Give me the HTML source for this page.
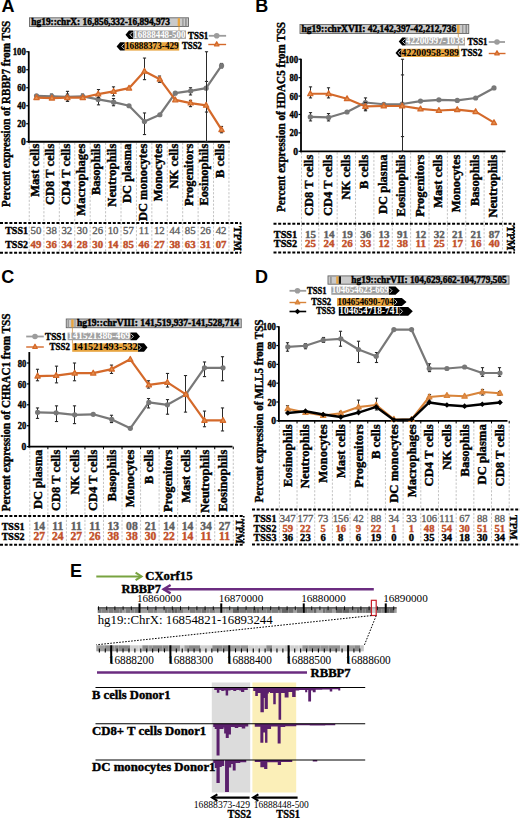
<!DOCTYPE html>
<html><head><meta charset="utf-8"><style>
html,body{margin:0;padding:0;background:#fff;width:520px;height:818px;overflow:hidden;font-family:"Liberation Serif",serif;}
svg{display:block;}
</style></head><body>
<svg width="520" height="818" viewBox="0 0 520 818">
<rect width="520" height="818" fill="#fff"/>
<text x="1.60" y="12.30" font-family="Liberation Sans" font-size="18" fill="#000" font-weight="bold" >A</text>
<text x="255.30" y="12.40" font-family="Liberation Sans" font-size="18" fill="#000" font-weight="bold" >B</text>
<text x="1.20" y="282.60" font-family="Liberation Sans" font-size="18" fill="#000" font-weight="bold" >C</text>
<text x="255.00" y="282.80" font-family="Liberation Sans" font-size="18" fill="#000" font-weight="bold" >D</text>
<text x="70.00" y="577.00" font-family="Liberation Sans" font-size="18" fill="#000" font-weight="bold" >E</text>
<line x1="29.25" y1="142.75" x2="29.25" y2="252.80" stroke="#bdbdbd" stroke-width="0.9" stroke-dasharray="2.2,1.6" />
<line x1="43.91" y1="142.75" x2="43.91" y2="252.80" stroke="#bdbdbd" stroke-width="0.9" stroke-dasharray="2.2,1.6" />
<line x1="59.33" y1="142.75" x2="59.33" y2="252.80" stroke="#bdbdbd" stroke-width="0.9" stroke-dasharray="2.2,1.6" />
<line x1="74.75" y1="142.75" x2="74.75" y2="252.80" stroke="#bdbdbd" stroke-width="0.9" stroke-dasharray="2.2,1.6" />
<line x1="90.17" y1="142.75" x2="90.17" y2="252.80" stroke="#bdbdbd" stroke-width="0.9" stroke-dasharray="2.2,1.6" />
<line x1="105.59" y1="142.75" x2="105.59" y2="252.80" stroke="#bdbdbd" stroke-width="0.9" stroke-dasharray="2.2,1.6" />
<line x1="121.01" y1="142.75" x2="121.01" y2="252.80" stroke="#bdbdbd" stroke-width="0.9" stroke-dasharray="2.2,1.6" />
<line x1="136.43" y1="142.75" x2="136.43" y2="252.80" stroke="#bdbdbd" stroke-width="0.9" stroke-dasharray="2.2,1.6" />
<line x1="151.85" y1="142.75" x2="151.85" y2="252.80" stroke="#bdbdbd" stroke-width="0.9" stroke-dasharray="2.2,1.6" />
<line x1="167.27" y1="142.75" x2="167.27" y2="252.80" stroke="#bdbdbd" stroke-width="0.9" stroke-dasharray="2.2,1.6" />
<line x1="182.69" y1="142.75" x2="182.69" y2="252.80" stroke="#bdbdbd" stroke-width="0.9" stroke-dasharray="2.2,1.6" />
<line x1="198.11" y1="142.75" x2="198.11" y2="252.80" stroke="#bdbdbd" stroke-width="0.9" stroke-dasharray="2.2,1.6" />
<line x1="213.53" y1="142.75" x2="213.53" y2="252.80" stroke="#bdbdbd" stroke-width="0.9" stroke-dasharray="2.2,1.6" />
<line x1="228.95" y1="142.75" x2="228.95" y2="252.80" stroke="#bdbdbd" stroke-width="0.9" stroke-dasharray="2.2,1.6" />
<line x1="28.75" y1="51.25" x2="28.75" y2="142.75" stroke="#000" stroke-width="1.8" />
<line x1="27.85" y1="141.75" x2="230.00" y2="141.75" stroke="#000" stroke-width="1.8" />
<line x1="26.25" y1="141.75" x2="28.75" y2="141.75" stroke="#000" stroke-width="1.2" />
<text x="25.85" y="145.35" font-family="Liberation Serif" font-size="10.5" fill="#000" font-weight="bold" text-anchor="end" textLength="4.80" lengthAdjust="spacingAndGlyphs" stroke="#000" stroke-width="0.4" >0</text>
<line x1="26.25" y1="123.75" x2="28.75" y2="123.75" stroke="#000" stroke-width="1.2" />
<text x="25.85" y="127.35" font-family="Liberation Serif" font-size="10.5" fill="#000" font-weight="bold" text-anchor="end" textLength="8.60" lengthAdjust="spacingAndGlyphs" stroke="#000" stroke-width="0.4" >20</text>
<line x1="26.25" y1="105.75" x2="28.75" y2="105.75" stroke="#000" stroke-width="1.2" />
<text x="25.85" y="109.35" font-family="Liberation Serif" font-size="10.5" fill="#000" font-weight="bold" text-anchor="end" textLength="8.60" lengthAdjust="spacingAndGlyphs" stroke="#000" stroke-width="0.4" >40</text>
<line x1="26.25" y1="87.75" x2="28.75" y2="87.75" stroke="#000" stroke-width="1.2" />
<text x="25.85" y="91.35" font-family="Liberation Serif" font-size="10.5" fill="#000" font-weight="bold" text-anchor="end" textLength="8.60" lengthAdjust="spacingAndGlyphs" stroke="#000" stroke-width="0.4" >60</text>
<line x1="26.25" y1="69.75" x2="28.75" y2="69.75" stroke="#000" stroke-width="1.2" />
<text x="25.85" y="73.35" font-family="Liberation Serif" font-size="10.5" fill="#000" font-weight="bold" text-anchor="end" textLength="8.60" lengthAdjust="spacingAndGlyphs" stroke="#000" stroke-width="0.4" >80</text>
<line x1="26.25" y1="51.75" x2="28.75" y2="51.75" stroke="#000" stroke-width="1.2" />
<text x="25.85" y="55.35" font-family="Liberation Serif" font-size="10.5" fill="#000" font-weight="bold" text-anchor="end" textLength="13.20" lengthAdjust="spacingAndGlyphs" stroke="#000" stroke-width="0.4" >100</text>
<text x="9.80" y="113.90" font-family="Liberation Serif" font-size="12" fill="#000" font-weight="bold" text-anchor="middle" textLength="186.30" lengthAdjust="spacingAndGlyphs" transform="rotate(-90 9.80 113.90)" stroke="#000" stroke-width="0.4" >Percent expression of RBBP7 from TSS</text>
<text x="38.80" y="143.65" font-family="Liberation Serif" font-size="12.5" fill="#000" font-weight="bold" text-anchor="end" transform="rotate(-90 38.80 143.65)" stroke="#000" stroke-width="0.4" >Mast cells</text>
<text x="54.22" y="143.65" font-family="Liberation Serif" font-size="12.5" fill="#000" font-weight="bold" text-anchor="end" transform="rotate(-90 54.22 143.65)" stroke="#000" stroke-width="0.4" >CD8 T cells</text>
<text x="69.64" y="143.65" font-family="Liberation Serif" font-size="12.5" fill="#000" font-weight="bold" text-anchor="end" transform="rotate(-90 69.64 143.65)" stroke="#000" stroke-width="0.4" >CD4 T cells</text>
<text x="85.06" y="143.65" font-family="Liberation Serif" font-size="12.5" fill="#000" font-weight="bold" text-anchor="end" transform="rotate(-90 85.06 143.65)" stroke="#000" stroke-width="0.4" >Macrophages</text>
<text x="100.48" y="143.65" font-family="Liberation Serif" font-size="12.5" fill="#000" font-weight="bold" text-anchor="end" transform="rotate(-90 100.48 143.65)" stroke="#000" stroke-width="0.4" >Basophils</text>
<text x="115.90" y="143.65" font-family="Liberation Serif" font-size="12.5" fill="#000" font-weight="bold" text-anchor="end" transform="rotate(-90 115.90 143.65)" stroke="#000" stroke-width="0.4" >Neutrophils</text>
<text x="131.32" y="143.65" font-family="Liberation Serif" font-size="12.5" fill="#000" font-weight="bold" text-anchor="end" transform="rotate(-90 131.32 143.65)" stroke="#000" stroke-width="0.4" >DC plasma</text>
<text x="146.74" y="143.65" font-family="Liberation Serif" font-size="12.5" fill="#000" font-weight="bold" text-anchor="end" transform="rotate(-90 146.74 143.65)" stroke="#000" stroke-width="0.4" >DC monocytes</text>
<text x="162.16" y="143.65" font-family="Liberation Serif" font-size="12.5" fill="#000" font-weight="bold" text-anchor="end" transform="rotate(-90 162.16 143.65)" stroke="#000" stroke-width="0.4" >Monocytes</text>
<text x="177.58" y="143.65" font-family="Liberation Serif" font-size="12.5" fill="#000" font-weight="bold" text-anchor="end" transform="rotate(-90 177.58 143.65)" stroke="#000" stroke-width="0.4" >NK cells</text>
<text x="193.00" y="143.65" font-family="Liberation Serif" font-size="12.5" fill="#000" font-weight="bold" text-anchor="end" transform="rotate(-90 193.00 143.65)" stroke="#000" stroke-width="0.4" >Progenitors</text>
<text x="208.42" y="143.65" font-family="Liberation Serif" font-size="12.5" fill="#000" font-weight="bold" text-anchor="end" transform="rotate(-90 208.42 143.65)" stroke="#000" stroke-width="0.4" >Eosinophils</text>
<text x="223.84" y="143.65" font-family="Liberation Serif" font-size="12.5" fill="#000" font-weight="bold" text-anchor="end" transform="rotate(-90 223.84 143.65)" stroke="#000" stroke-width="0.4" >B cells</text>
<line x1="51.50" y1="94.05" x2="51.50" y2="99.45" stroke="#2a2a2a" stroke-width="1" />
<line x1="49.90" y1="94.05" x2="53.10" y2="94.05" stroke="#2a2a2a" stroke-width="1.1" />
<line x1="49.90" y1="99.45" x2="53.10" y2="99.45" stroke="#2a2a2a" stroke-width="1.1" />
<line x1="67.50" y1="91.35" x2="67.50" y2="101.25" stroke="#2a2a2a" stroke-width="1" />
<line x1="65.90" y1="91.35" x2="69.10" y2="91.35" stroke="#2a2a2a" stroke-width="1.1" />
<line x1="65.90" y1="101.25" x2="69.10" y2="101.25" stroke="#2a2a2a" stroke-width="1.1" />
<line x1="82.50" y1="94.05" x2="82.50" y2="98.55" stroke="#2a2a2a" stroke-width="1" />
<line x1="80.90" y1="94.05" x2="84.10" y2="94.05" stroke="#2a2a2a" stroke-width="1.1" />
<line x1="80.90" y1="98.55" x2="84.10" y2="98.55" stroke="#2a2a2a" stroke-width="1.1" />
<line x1="98.50" y1="95.85" x2="98.50" y2="104.85" stroke="#2a2a2a" stroke-width="1" />
<line x1="96.90" y1="95.85" x2="100.10" y2="95.85" stroke="#2a2a2a" stroke-width="1.1" />
<line x1="96.90" y1="104.85" x2="100.10" y2="104.85" stroke="#2a2a2a" stroke-width="1.1" />
<line x1="113.50" y1="98.55" x2="113.50" y2="105.75" stroke="#2a2a2a" stroke-width="1" />
<line x1="111.90" y1="98.55" x2="115.10" y2="98.55" stroke="#2a2a2a" stroke-width="1.1" />
<line x1="111.90" y1="105.75" x2="115.10" y2="105.75" stroke="#2a2a2a" stroke-width="1.1" />
<line x1="144.50" y1="112.95" x2="144.50" y2="134.55" stroke="#2a2a2a" stroke-width="1" />
<line x1="142.90" y1="112.95" x2="146.10" y2="112.95" stroke="#2a2a2a" stroke-width="1.1" />
<line x1="142.90" y1="134.55" x2="146.10" y2="134.55" stroke="#2a2a2a" stroke-width="1.1" />
<line x1="190.50" y1="87.75" x2="190.50" y2="94.95" stroke="#2a2a2a" stroke-width="1" />
<line x1="188.90" y1="87.75" x2="192.10" y2="87.75" stroke="#2a2a2a" stroke-width="1.1" />
<line x1="188.90" y1="94.95" x2="192.10" y2="94.95" stroke="#2a2a2a" stroke-width="1.1" />
<line x1="206.50" y1="51.75" x2="206.50" y2="112.05" stroke="#2a2a2a" stroke-width="1" />
<line x1="204.90" y1="51.75" x2="208.10" y2="51.75" stroke="#2a2a2a" stroke-width="1.1" />
<line x1="204.90" y1="112.05" x2="208.10" y2="112.05" stroke="#2a2a2a" stroke-width="1.1" />
<line x1="221.50" y1="63.45" x2="221.50" y2="67.95" stroke="#2a2a2a" stroke-width="1" />
<line x1="219.90" y1="63.45" x2="223.10" y2="63.45" stroke="#2a2a2a" stroke-width="1.1" />
<line x1="219.90" y1="67.95" x2="223.10" y2="67.95" stroke="#2a2a2a" stroke-width="1.1" />
<path d="M36.50 95.85 L51.92 96.30 L67.34 96.75 L82.76 96.30 L98.18 99.45 L113.60 102.15 L129.02 105.75 L144.44 121.50 L159.86 114.75 L175.28 93.15 L190.70 90.90 L206.12 88.20 L221.54 65.70" fill="none" stroke="#787878" stroke-width="2.2" stroke-linejoin="round"/>
<circle cx="36.50" cy="95.85" r="2.6" fill="#787878"/>
<circle cx="51.92" cy="96.30" r="2.6" fill="#787878"/>
<circle cx="67.34" cy="96.75" r="2.6" fill="#787878"/>
<circle cx="82.76" cy="96.30" r="2.6" fill="#787878"/>
<circle cx="98.18" cy="99.45" r="2.6" fill="#787878"/>
<circle cx="113.60" cy="102.15" r="2.6" fill="#787878"/>
<circle cx="129.02" cy="105.75" r="2.6" fill="#787878"/>
<circle cx="144.44" cy="121.50" r="2.6" fill="#787878"/>
<circle cx="159.86" cy="114.75" r="2.6" fill="#787878"/>
<circle cx="175.28" cy="93.15" r="2.6" fill="#787878"/>
<circle cx="190.70" cy="90.90" r="2.6" fill="#787878"/>
<circle cx="206.12" cy="88.20" r="2.6" fill="#787878"/>
<circle cx="221.54" cy="65.70" r="2.6" fill="#787878"/>
<line x1="67.50" y1="94.05" x2="67.50" y2="101.25" stroke="#2a2a2a" stroke-width="1" />
<line x1="65.90" y1="94.05" x2="69.10" y2="94.05" stroke="#2a2a2a" stroke-width="1.1" />
<line x1="65.90" y1="101.25" x2="69.10" y2="101.25" stroke="#2a2a2a" stroke-width="1.1" />
<line x1="98.50" y1="89.55" x2="98.50" y2="97.65" stroke="#2a2a2a" stroke-width="1" />
<line x1="96.90" y1="89.55" x2="100.10" y2="89.55" stroke="#2a2a2a" stroke-width="1.1" />
<line x1="96.90" y1="97.65" x2="100.10" y2="97.65" stroke="#2a2a2a" stroke-width="1.1" />
<line x1="113.50" y1="86.85" x2="113.50" y2="95.85" stroke="#2a2a2a" stroke-width="1" />
<line x1="111.90" y1="86.85" x2="115.10" y2="86.85" stroke="#2a2a2a" stroke-width="1.1" />
<line x1="111.90" y1="95.85" x2="115.10" y2="95.85" stroke="#2a2a2a" stroke-width="1.1" />
<line x1="144.50" y1="58.05" x2="144.50" y2="79.65" stroke="#2a2a2a" stroke-width="1" />
<line x1="142.90" y1="58.05" x2="146.10" y2="58.05" stroke="#2a2a2a" stroke-width="1.1" />
<line x1="142.90" y1="79.65" x2="146.10" y2="79.65" stroke="#2a2a2a" stroke-width="1.1" />
<line x1="159.50" y1="76.05" x2="159.50" y2="82.35" stroke="#2a2a2a" stroke-width="1" />
<line x1="157.90" y1="76.05" x2="161.10" y2="76.05" stroke="#2a2a2a" stroke-width="1.1" />
<line x1="157.90" y1="82.35" x2="161.10" y2="82.35" stroke="#2a2a2a" stroke-width="1.1" />
<line x1="190.50" y1="100.35" x2="190.50" y2="106.65" stroke="#2a2a2a" stroke-width="1" />
<line x1="188.90" y1="100.35" x2="192.10" y2="100.35" stroke="#2a2a2a" stroke-width="1.1" />
<line x1="188.90" y1="106.65" x2="192.10" y2="106.65" stroke="#2a2a2a" stroke-width="1.1" />
<line x1="206.50" y1="81.45" x2="206.50" y2="141.75" stroke="#2a2a2a" stroke-width="1" />
<line x1="204.90" y1="81.45" x2="208.10" y2="81.45" stroke="#2a2a2a" stroke-width="1.1" />
<line x1="204.90" y1="141.75" x2="208.10" y2="141.75" stroke="#2a2a2a" stroke-width="1.1" />
<line x1="221.50" y1="126.45" x2="221.50" y2="132.75" stroke="#2a2a2a" stroke-width="1" />
<line x1="219.90" y1="126.45" x2="223.10" y2="126.45" stroke="#2a2a2a" stroke-width="1.1" />
<line x1="219.90" y1="132.75" x2="223.10" y2="132.75" stroke="#2a2a2a" stroke-width="1.1" />
<path d="M36.50 97.65 L51.92 98.10 L67.34 97.65 L82.76 97.65 L98.18 94.05 L113.60 91.35 L129.02 88.20 L144.44 71.28 L159.86 79.20 L175.28 99.90 L190.70 103.05 L206.12 105.30 L221.54 129.60" fill="none" stroke="#d4692a" stroke-width="2.2" stroke-linejoin="round"/>
<path d="M36.50 94.77 L39.13 99.57 L33.87 99.57Z" fill="#e58f4c" stroke="#d4692a" stroke-width="1.3" stroke-linejoin="round"/>
<path d="M51.92 95.22 L54.55 100.02 L49.29 100.02Z" fill="#e58f4c" stroke="#d4692a" stroke-width="1.3" stroke-linejoin="round"/>
<path d="M67.34 94.77 L69.97 99.57 L64.71 99.57Z" fill="#e58f4c" stroke="#d4692a" stroke-width="1.3" stroke-linejoin="round"/>
<path d="M82.76 94.77 L85.39 99.57 L80.13 99.57Z" fill="#e58f4c" stroke="#d4692a" stroke-width="1.3" stroke-linejoin="round"/>
<path d="M98.18 91.17 L100.81 95.97 L95.55 95.97Z" fill="#e58f4c" stroke="#d4692a" stroke-width="1.3" stroke-linejoin="round"/>
<path d="M113.60 88.47 L116.23 93.27 L110.97 93.27Z" fill="#e58f4c" stroke="#d4692a" stroke-width="1.3" stroke-linejoin="round"/>
<path d="M129.02 85.32 L131.65 90.12 L126.39 90.12Z" fill="#e58f4c" stroke="#d4692a" stroke-width="1.3" stroke-linejoin="round"/>
<path d="M144.44 68.40 L147.07 73.20 L141.81 73.20Z" fill="#e58f4c" stroke="#d4692a" stroke-width="1.3" stroke-linejoin="round"/>
<path d="M159.86 76.32 L162.49 81.12 L157.23 81.12Z" fill="#e58f4c" stroke="#d4692a" stroke-width="1.3" stroke-linejoin="round"/>
<path d="M175.28 97.02 L177.91 101.82 L172.65 101.82Z" fill="#e58f4c" stroke="#d4692a" stroke-width="1.3" stroke-linejoin="round"/>
<path d="M190.70 100.17 L193.33 104.97 L188.07 104.97Z" fill="#e58f4c" stroke="#d4692a" stroke-width="1.3" stroke-linejoin="round"/>
<path d="M206.12 102.42 L208.75 107.22 L203.49 107.22Z" fill="#e58f4c" stroke="#d4692a" stroke-width="1.3" stroke-linejoin="round"/>
<path d="M221.54 126.72 L224.17 131.52 L218.91 131.52Z" fill="#e58f4c" stroke="#d4692a" stroke-width="1.3" stroke-linejoin="round"/>
<line x1="0.00" y1="222.90" x2="241.20" y2="222.90" stroke="#000" stroke-width="2" stroke-dasharray="3,1.7" />
<line x1="0.00" y1="252.80" x2="241.20" y2="252.80" stroke="#000" stroke-width="2" stroke-dasharray="3,1.7" />
<line x1="240.60" y1="222.90" x2="240.60" y2="252.80" stroke="#000" stroke-width="1.6" stroke-dasharray="1.6,1.6" />
<text x="5.20" y="233.60" font-family="Liberation Serif" font-size="10" fill="#000" font-weight="bold" stroke="#000" stroke-width="0.4" >TSS1</text>
<text x="36.00" y="233.60" font-family="Liberation Serif" font-size="10.8" fill="#5f5f5f" text-anchor="middle" stroke="#5f5f5f" stroke-width="0.35">50</text>
<text x="51.42" y="233.60" font-family="Liberation Serif" font-size="10.8" fill="#5f5f5f" text-anchor="middle" stroke="#5f5f5f" stroke-width="0.35">38</text>
<text x="66.84" y="233.60" font-family="Liberation Serif" font-size="10.8" fill="#5f5f5f" text-anchor="middle" stroke="#5f5f5f" stroke-width="0.35">32</text>
<text x="82.26" y="233.60" font-family="Liberation Serif" font-size="10.8" fill="#5f5f5f" text-anchor="middle" stroke="#5f5f5f" stroke-width="0.35">30</text>
<text x="97.68" y="233.60" font-family="Liberation Serif" font-size="10.8" fill="#5f5f5f" text-anchor="middle" stroke="#5f5f5f" stroke-width="0.35">26</text>
<text x="113.10" y="233.60" font-family="Liberation Serif" font-size="10.8" fill="#5f5f5f" text-anchor="middle" stroke="#5f5f5f" stroke-width="0.35">10</text>
<text x="128.52" y="233.60" font-family="Liberation Serif" font-size="10.8" fill="#5f5f5f" text-anchor="middle" stroke="#5f5f5f" stroke-width="0.35">57</text>
<text x="143.94" y="233.60" font-family="Liberation Serif" font-size="10.8" fill="#5f5f5f" text-anchor="middle" stroke="#5f5f5f" stroke-width="0.35">11</text>
<text x="159.36" y="233.60" font-family="Liberation Serif" font-size="10.8" fill="#5f5f5f" text-anchor="middle" stroke="#5f5f5f" stroke-width="0.35">12</text>
<text x="174.78" y="233.60" font-family="Liberation Serif" font-size="10.8" fill="#5f5f5f" text-anchor="middle" stroke="#5f5f5f" stroke-width="0.35">44</text>
<text x="190.20" y="233.60" font-family="Liberation Serif" font-size="10.8" fill="#5f5f5f" text-anchor="middle" stroke="#5f5f5f" stroke-width="0.35">85</text>
<text x="205.62" y="233.60" font-family="Liberation Serif" font-size="10.8" fill="#5f5f5f" text-anchor="middle" stroke="#5f5f5f" stroke-width="0.35">26</text>
<text x="221.04" y="233.60" font-family="Liberation Serif" font-size="10.8" fill="#5f5f5f" text-anchor="middle" stroke="#5f5f5f" stroke-width="0.35">42</text>
<text x="5.20" y="248.20" font-family="Liberation Serif" font-size="10" fill="#000" font-weight="bold" stroke="#000" stroke-width="0.4" >TSS2</text>
<text x="36.00" y="248.20" font-family="Liberation Serif" font-size="10.8" fill="#c2502a" font-weight="bold" text-anchor="middle" stroke="#c2502a" stroke-width="0.4" >49</text>
<text x="51.42" y="248.20" font-family="Liberation Serif" font-size="10.8" fill="#c2502a" font-weight="bold" text-anchor="middle" stroke="#c2502a" stroke-width="0.4" >36</text>
<text x="66.84" y="248.20" font-family="Liberation Serif" font-size="10.8" fill="#c2502a" font-weight="bold" text-anchor="middle" stroke="#c2502a" stroke-width="0.4" >34</text>
<text x="82.26" y="248.20" font-family="Liberation Serif" font-size="10.8" fill="#c2502a" font-weight="bold" text-anchor="middle" stroke="#c2502a" stroke-width="0.4" >28</text>
<text x="97.68" y="248.20" font-family="Liberation Serif" font-size="10.8" fill="#c2502a" font-weight="bold" text-anchor="middle" stroke="#c2502a" stroke-width="0.4" >30</text>
<text x="113.10" y="248.20" font-family="Liberation Serif" font-size="10.8" fill="#c2502a" font-weight="bold" text-anchor="middle" stroke="#c2502a" stroke-width="0.4" >14</text>
<text x="128.52" y="248.20" font-family="Liberation Serif" font-size="10.8" fill="#c2502a" font-weight="bold" text-anchor="middle" stroke="#c2502a" stroke-width="0.4" >85</text>
<text x="143.94" y="248.20" font-family="Liberation Serif" font-size="10.8" fill="#c2502a" font-weight="bold" text-anchor="middle" stroke="#c2502a" stroke-width="0.4" >46</text>
<text x="159.36" y="248.20" font-family="Liberation Serif" font-size="10.8" fill="#c2502a" font-weight="bold" text-anchor="middle" stroke="#c2502a" stroke-width="0.4" >27</text>
<text x="174.78" y="248.20" font-family="Liberation Serif" font-size="10.8" fill="#c2502a" font-weight="bold" text-anchor="middle" stroke="#c2502a" stroke-width="0.4" >38</text>
<text x="190.20" y="248.20" font-family="Liberation Serif" font-size="10.8" fill="#c2502a" font-weight="bold" text-anchor="middle" stroke="#c2502a" stroke-width="0.4" >63</text>
<text x="205.62" y="248.20" font-family="Liberation Serif" font-size="10.8" fill="#c2502a" font-weight="bold" text-anchor="middle" stroke="#c2502a" stroke-width="0.4" >31</text>
<text x="221.04" y="248.20" font-family="Liberation Serif" font-size="10.8" fill="#c2502a" font-weight="bold" text-anchor="middle" stroke="#c2502a" stroke-width="0.4" >07</text>
<text x="234.00" y="226.00" font-family="Liberation Serif" font-size="10" fill="#000" font-weight="bold" textLength="25.00" lengthAdjust="spacingAndGlyphs" transform="rotate(90 234.00 226.00)" stroke="#000" stroke-width="0.4" >TPM</text>
<rect x="29.50" y="17.80" width="159.00" height="8.70" fill="#cacaca" stroke="#666" stroke-width="0.9"/>
<text x="31.30" y="25.20" font-family="Liberation Serif" font-size="9.4" fill="#000" font-weight="bold" textLength="138.70" lengthAdjust="spacingAndGlyphs" stroke="#000" stroke-width="0.4" >hg19::chrX: 16,856,332-16,894,973</text>
<rect x="177.70" y="18.20" width="2.30" height="8.00" fill="#e8a540"/>
<rect x="182.20" y="18.20" width="1.40" height="8.00" fill="#999"/>
<rect x="185.20" y="18.20" width="1.40" height="8.00" fill="#888"/>
<line x1="179.00" y1="26.50" x2="179.00" y2="40.50" stroke="#c98a30" stroke-width="0.7" />
<rect x="133.00" y="30.50" width="53.00" height="8.40" fill="#a2a2a2"/>
<path d="M125.50 34.70 L129.00 30.50 L133.00 30.50 L133.00 38.90 L129.00 38.90Z" fill="#000"/>
<path d="M132.40 32.10 L130.00 34.70 L132.40 37.30" fill="none" stroke="#ddd" stroke-width="0.9"/>
<text x="133.30" y="37.50" font-family="Liberation Serif" font-size="9.4" fill="#fff" font-weight="bold" textLength="52.20" lengthAdjust="spacingAndGlyphs" stroke="none">16888448-500</text>
<rect x="124.70" y="42.20" width="54.50" height="8.40" fill="#e8a540"/>
<path d="M116.60 46.40 L120.10 42.20 L124.70 42.20 L124.70 50.60 L120.10 50.60Z" fill="#000"/>
<path d="M124.10 43.80 L121.70 46.40 L124.10 49.00" fill="none" stroke="#ddd" stroke-width="0.9"/>
<text x="125.00" y="49.20" font-family="Liberation Serif" font-size="9.4" fill="#000" font-weight="bold" textLength="53.70" lengthAdjust="spacingAndGlyphs" stroke="none">16888373-429</text>
<text x="188.00" y="38.50" font-family="Liberation Serif" font-size="9.3" fill="#000" font-weight="bold" textLength="20.30" lengthAdjust="spacingAndGlyphs" stroke="#000" stroke-width="0.4" >TSS1</text>
<text x="182.00" y="48.50" font-family="Liberation Serif" font-size="9.3" fill="#000" font-weight="bold" textLength="20.00" lengthAdjust="spacingAndGlyphs" stroke="#000" stroke-width="0.4" >TSS2</text>
<line x1="208.80" y1="35.80" x2="226.10" y2="35.80" stroke="#9c9c9c" stroke-width="1.8" />
<circle cx="216.70" cy="35.80" r="2.8" fill="#9c9c9c"/>
<line x1="208.30" y1="44.50" x2="226.10" y2="44.50" stroke="#d4692a" stroke-width="1.4" />
<path d="M216.70 41.76 L218.93 45.83 L214.47 45.83Z" fill="#e58f4c" stroke="#d4692a" stroke-width="1.3" stroke-linejoin="round"/>
<line x1="301.50" y1="152.30" x2="301.50" y2="252.50" stroke="#bdbdbd" stroke-width="0.9" stroke-dasharray="2.2,1.6" />
<line x1="318.79" y1="152.30" x2="318.79" y2="252.50" stroke="#bdbdbd" stroke-width="0.9" stroke-dasharray="2.2,1.6" />
<line x1="337.16" y1="152.30" x2="337.16" y2="252.50" stroke="#bdbdbd" stroke-width="0.9" stroke-dasharray="2.2,1.6" />
<line x1="355.53" y1="152.30" x2="355.53" y2="252.50" stroke="#bdbdbd" stroke-width="0.9" stroke-dasharray="2.2,1.6" />
<line x1="373.90" y1="152.30" x2="373.90" y2="252.50" stroke="#bdbdbd" stroke-width="0.9" stroke-dasharray="2.2,1.6" />
<line x1="392.27" y1="152.30" x2="392.27" y2="252.50" stroke="#bdbdbd" stroke-width="0.9" stroke-dasharray="2.2,1.6" />
<line x1="410.63" y1="152.30" x2="410.63" y2="252.50" stroke="#bdbdbd" stroke-width="0.9" stroke-dasharray="2.2,1.6" />
<line x1="429.00" y1="152.30" x2="429.00" y2="252.50" stroke="#bdbdbd" stroke-width="0.9" stroke-dasharray="2.2,1.6" />
<line x1="447.38" y1="152.30" x2="447.38" y2="252.50" stroke="#bdbdbd" stroke-width="0.9" stroke-dasharray="2.2,1.6" />
<line x1="465.75" y1="152.30" x2="465.75" y2="252.50" stroke="#bdbdbd" stroke-width="0.9" stroke-dasharray="2.2,1.6" />
<line x1="484.12" y1="152.30" x2="484.12" y2="252.50" stroke="#bdbdbd" stroke-width="0.9" stroke-dasharray="2.2,1.6" />
<line x1="502.49" y1="152.30" x2="502.49" y2="252.50" stroke="#bdbdbd" stroke-width="0.9" stroke-dasharray="2.2,1.6" />
<line x1="301.00" y1="58.75" x2="301.00" y2="152.30" stroke="#000" stroke-width="1.8" />
<line x1="300.10" y1="151.30" x2="505.50" y2="151.30" stroke="#000" stroke-width="1.8" />
<line x1="298.50" y1="151.30" x2="301.00" y2="151.30" stroke="#000" stroke-width="1.2" />
<text x="298.10" y="154.90" font-family="Liberation Serif" font-size="10.5" fill="#000" font-weight="bold" text-anchor="end" textLength="4.80" lengthAdjust="spacingAndGlyphs" stroke="#000" stroke-width="0.4" >0</text>
<line x1="298.50" y1="132.89" x2="301.00" y2="132.89" stroke="#000" stroke-width="1.2" />
<text x="298.10" y="136.49" font-family="Liberation Serif" font-size="10.5" fill="#000" font-weight="bold" text-anchor="end" textLength="8.60" lengthAdjust="spacingAndGlyphs" stroke="#000" stroke-width="0.4" >20</text>
<line x1="298.50" y1="114.48" x2="301.00" y2="114.48" stroke="#000" stroke-width="1.2" />
<text x="298.10" y="118.08" font-family="Liberation Serif" font-size="10.5" fill="#000" font-weight="bold" text-anchor="end" textLength="8.60" lengthAdjust="spacingAndGlyphs" stroke="#000" stroke-width="0.4" >40</text>
<line x1="298.50" y1="96.07" x2="301.00" y2="96.07" stroke="#000" stroke-width="1.2" />
<text x="298.10" y="99.67" font-family="Liberation Serif" font-size="10.5" fill="#000" font-weight="bold" text-anchor="end" textLength="8.60" lengthAdjust="spacingAndGlyphs" stroke="#000" stroke-width="0.4" >60</text>
<line x1="298.50" y1="77.66" x2="301.00" y2="77.66" stroke="#000" stroke-width="1.2" />
<text x="298.10" y="81.26" font-family="Liberation Serif" font-size="10.5" fill="#000" font-weight="bold" text-anchor="end" textLength="8.60" lengthAdjust="spacingAndGlyphs" stroke="#000" stroke-width="0.4" >80</text>
<line x1="298.50" y1="59.25" x2="301.00" y2="59.25" stroke="#000" stroke-width="1.2" />
<text x="298.10" y="62.85" font-family="Liberation Serif" font-size="10.5" fill="#000" font-weight="bold" text-anchor="end" textLength="13.20" lengthAdjust="spacingAndGlyphs" stroke="#000" stroke-width="0.4" >100</text>
<text x="284.50" y="117.00" font-family="Liberation Serif" font-size="12" fill="#000" font-weight="bold" text-anchor="middle" textLength="190.00" lengthAdjust="spacingAndGlyphs" transform="rotate(-90 284.50 117.00)" stroke="#000" stroke-width="0.4" >Percent expression of HDAC5 from TSS</text>
<text x="313.30" y="154.60" font-family="Liberation Serif" font-size="12.5" fill="#000" font-weight="bold" text-anchor="end" transform="rotate(-90 313.30 154.60)" stroke="#000" stroke-width="0.4" >CD8 T cells</text>
<text x="331.67" y="154.60" font-family="Liberation Serif" font-size="12.5" fill="#000" font-weight="bold" text-anchor="end" transform="rotate(-90 331.67 154.60)" stroke="#000" stroke-width="0.4" >CD4 T cells</text>
<text x="350.04" y="154.60" font-family="Liberation Serif" font-size="12.5" fill="#000" font-weight="bold" text-anchor="end" transform="rotate(-90 350.04 154.60)" stroke="#000" stroke-width="0.4" >NK cells</text>
<text x="368.41" y="154.60" font-family="Liberation Serif" font-size="12.5" fill="#000" font-weight="bold" text-anchor="end" transform="rotate(-90 368.41 154.60)" stroke="#000" stroke-width="0.4" >B cells</text>
<text x="386.78" y="154.60" font-family="Liberation Serif" font-size="12.5" fill="#000" font-weight="bold" text-anchor="end" transform="rotate(-90 386.78 154.60)" stroke="#000" stroke-width="0.4" >DC plasma</text>
<text x="405.15" y="154.60" font-family="Liberation Serif" font-size="12.5" fill="#000" font-weight="bold" text-anchor="end" transform="rotate(-90 405.15 154.60)" stroke="#000" stroke-width="0.4" >Eosinophils</text>
<text x="423.52" y="154.60" font-family="Liberation Serif" font-size="12.5" fill="#000" font-weight="bold" text-anchor="end" transform="rotate(-90 423.52 154.60)" stroke="#000" stroke-width="0.4" >Progenitors</text>
<text x="441.89" y="154.60" font-family="Liberation Serif" font-size="12.5" fill="#000" font-weight="bold" text-anchor="end" transform="rotate(-90 441.89 154.60)" stroke="#000" stroke-width="0.4" >Mast cells</text>
<text x="460.26" y="154.60" font-family="Liberation Serif" font-size="12.5" fill="#000" font-weight="bold" text-anchor="end" transform="rotate(-90 460.26 154.60)" stroke="#000" stroke-width="0.4" >Monocytes</text>
<text x="478.63" y="154.60" font-family="Liberation Serif" font-size="12.5" fill="#000" font-weight="bold" text-anchor="end" transform="rotate(-90 478.63 154.60)" stroke="#000" stroke-width="0.4" >Basophils</text>
<text x="497.00" y="154.60" font-family="Liberation Serif" font-size="12.5" fill="#000" font-weight="bold" text-anchor="end" transform="rotate(-90 497.00 154.60)" stroke="#000" stroke-width="0.4" >Neutrophils</text>
<line x1="310.50" y1="112.64" x2="310.50" y2="120.92" stroke="#2a2a2a" stroke-width="1" />
<line x1="308.90" y1="112.64" x2="312.10" y2="112.64" stroke="#2a2a2a" stroke-width="1.1" />
<line x1="308.90" y1="120.92" x2="312.10" y2="120.92" stroke="#2a2a2a" stroke-width="1.1" />
<line x1="328.50" y1="113.56" x2="328.50" y2="120.92" stroke="#2a2a2a" stroke-width="1" />
<line x1="326.90" y1="113.56" x2="330.10" y2="113.56" stroke="#2a2a2a" stroke-width="1.1" />
<line x1="326.90" y1="120.92" x2="330.10" y2="120.92" stroke="#2a2a2a" stroke-width="1.1" />
<line x1="365.50" y1="97.91" x2="365.50" y2="109.88" stroke="#2a2a2a" stroke-width="1" />
<line x1="363.90" y1="97.91" x2="367.10" y2="97.91" stroke="#2a2a2a" stroke-width="1.1" />
<line x1="363.90" y1="109.88" x2="367.10" y2="109.88" stroke="#2a2a2a" stroke-width="1.1" />
<line x1="402.50" y1="59.25" x2="402.50" y2="136.57" stroke="#2a2a2a" stroke-width="1" />
<line x1="400.90" y1="59.25" x2="404.10" y2="59.25" stroke="#2a2a2a" stroke-width="1.1" />
<line x1="400.90" y1="136.57" x2="404.10" y2="136.57" stroke="#2a2a2a" stroke-width="1.1" />
<path d="M310.30 116.97 L328.67 117.43 L347.04 111.99 L365.41 102.51 L383.78 104.26 L402.15 103.99 L420.52 101.04 L438.89 99.84 L457.26 100.40 L475.63 98.00 L494.00 87.97" fill="none" stroke="#787878" stroke-width="2.2" stroke-linejoin="round"/>
<circle cx="310.30" cy="116.97" r="2.6" fill="#787878"/>
<circle cx="328.67" cy="117.43" r="2.6" fill="#787878"/>
<circle cx="347.04" cy="111.99" r="2.6" fill="#787878"/>
<circle cx="365.41" cy="102.51" r="2.6" fill="#787878"/>
<circle cx="383.78" cy="104.26" r="2.6" fill="#787878"/>
<circle cx="402.15" cy="103.99" r="2.6" fill="#787878"/>
<circle cx="420.52" cy="101.04" r="2.6" fill="#787878"/>
<circle cx="438.89" cy="99.84" r="2.6" fill="#787878"/>
<circle cx="457.26" cy="100.40" r="2.6" fill="#787878"/>
<circle cx="475.63" cy="98.00" r="2.6" fill="#787878"/>
<circle cx="494.00" cy="87.97" r="2.6" fill="#787878"/>
<line x1="310.50" y1="86.87" x2="310.50" y2="97.91" stroke="#2a2a2a" stroke-width="1" />
<line x1="308.90" y1="86.87" x2="312.10" y2="86.87" stroke="#2a2a2a" stroke-width="1.1" />
<line x1="308.90" y1="97.91" x2="312.10" y2="97.91" stroke="#2a2a2a" stroke-width="1.1" />
<line x1="328.50" y1="87.79" x2="328.50" y2="97.91" stroke="#2a2a2a" stroke-width="1" />
<line x1="326.90" y1="87.79" x2="330.10" y2="87.79" stroke="#2a2a2a" stroke-width="1.1" />
<line x1="326.90" y1="97.91" x2="330.10" y2="97.91" stroke="#2a2a2a" stroke-width="1.1" />
<line x1="365.50" y1="102.51" x2="365.50" y2="110.80" stroke="#2a2a2a" stroke-width="1" />
<line x1="363.90" y1="102.51" x2="367.10" y2="102.51" stroke="#2a2a2a" stroke-width="1.1" />
<line x1="363.90" y1="110.80" x2="367.10" y2="110.80" stroke="#2a2a2a" stroke-width="1.1" />
<line x1="402.50" y1="74.90" x2="402.50" y2="151.30" stroke="#2a2a2a" stroke-width="1" />
<line x1="400.90" y1="74.90" x2="404.10" y2="74.90" stroke="#2a2a2a" stroke-width="1.1" />
<line x1="400.90" y1="151.30" x2="404.10" y2="151.30" stroke="#2a2a2a" stroke-width="1.1" />
<path d="M310.30 93.77 L328.67 93.77 L347.04 98.74 L365.41 106.47 L383.78 106.01 L402.15 106.01 L420.52 108.96 L438.89 110.52 L457.26 109.60 L475.63 111.63 L494.00 122.58" fill="none" stroke="#d4692a" stroke-width="2.2" stroke-linejoin="round"/>
<path d="M310.30 90.89 L312.93 95.69 L307.67 95.69Z" fill="#e58f4c" stroke="#d4692a" stroke-width="1.3" stroke-linejoin="round"/>
<path d="M328.67 90.89 L331.30 95.69 L326.04 95.69Z" fill="#e58f4c" stroke="#d4692a" stroke-width="1.3" stroke-linejoin="round"/>
<path d="M347.04 95.86 L349.67 100.66 L344.41 100.66Z" fill="#e58f4c" stroke="#d4692a" stroke-width="1.3" stroke-linejoin="round"/>
<path d="M365.41 103.59 L368.04 108.39 L362.78 108.39Z" fill="#e58f4c" stroke="#d4692a" stroke-width="1.3" stroke-linejoin="round"/>
<path d="M383.78 103.13 L386.41 107.93 L381.15 107.93Z" fill="#e58f4c" stroke="#d4692a" stroke-width="1.3" stroke-linejoin="round"/>
<path d="M402.15 103.13 L404.78 107.93 L399.52 107.93Z" fill="#e58f4c" stroke="#d4692a" stroke-width="1.3" stroke-linejoin="round"/>
<path d="M420.52 106.07 L423.15 110.88 L417.89 110.88Z" fill="#e58f4c" stroke="#d4692a" stroke-width="1.3" stroke-linejoin="round"/>
<path d="M438.89 107.64 L441.52 112.44 L436.26 112.44Z" fill="#e58f4c" stroke="#d4692a" stroke-width="1.3" stroke-linejoin="round"/>
<path d="M457.26 106.72 L459.89 111.52 L454.63 111.52Z" fill="#e58f4c" stroke="#d4692a" stroke-width="1.3" stroke-linejoin="round"/>
<path d="M475.63 108.74 L478.26 113.55 L473.00 113.55Z" fill="#e58f4c" stroke="#d4692a" stroke-width="1.3" stroke-linejoin="round"/>
<path d="M494.00 119.70 L496.63 124.50 L491.37 124.50Z" fill="#e58f4c" stroke="#d4692a" stroke-width="1.3" stroke-linejoin="round"/>
<line x1="273.50" y1="223.65" x2="515.00" y2="223.65" stroke="#000" stroke-width="2" stroke-dasharray="3,1.7" />
<line x1="273.50" y1="252.50" x2="515.00" y2="252.50" stroke="#000" stroke-width="2" stroke-dasharray="3,1.7" />
<line x1="514.30" y1="223.65" x2="514.30" y2="252.50" stroke="#000" stroke-width="1.6" stroke-dasharray="1.6,1.6" />
<text x="273.80" y="237.50" font-family="Liberation Serif" font-size="10" fill="#000" font-weight="bold" textLength="23.40" lengthAdjust="spacingAndGlyphs" stroke="#000" stroke-width="0.4" >TSS1</text>
<text x="310.60" y="237.50" font-family="Liberation Serif" font-size="11" fill="#5f5f5f" font-weight="bold" text-anchor="middle" stroke="#5f5f5f" stroke-width="0.4" >15</text>
<text x="328.97" y="237.50" font-family="Liberation Serif" font-size="11" fill="#5f5f5f" font-weight="bold" text-anchor="middle" stroke="#5f5f5f" stroke-width="0.4" >14</text>
<text x="347.34" y="237.50" font-family="Liberation Serif" font-size="11" fill="#5f5f5f" font-weight="bold" text-anchor="middle" stroke="#5f5f5f" stroke-width="0.4" >19</text>
<text x="365.71" y="237.50" font-family="Liberation Serif" font-size="11" fill="#5f5f5f" font-weight="bold" text-anchor="middle" stroke="#5f5f5f" stroke-width="0.4" >36</text>
<text x="384.08" y="237.50" font-family="Liberation Serif" font-size="11" fill="#5f5f5f" font-weight="bold" text-anchor="middle" stroke="#5f5f5f" stroke-width="0.4" >13</text>
<text x="402.45" y="237.50" font-family="Liberation Serif" font-size="11" fill="#5f5f5f" font-weight="bold" text-anchor="middle" stroke="#5f5f5f" stroke-width="0.4" >91</text>
<text x="420.82" y="237.50" font-family="Liberation Serif" font-size="11" fill="#5f5f5f" font-weight="bold" text-anchor="middle" stroke="#5f5f5f" stroke-width="0.4" >12</text>
<text x="439.19" y="237.50" font-family="Liberation Serif" font-size="11" fill="#5f5f5f" font-weight="bold" text-anchor="middle" stroke="#5f5f5f" stroke-width="0.4" >32</text>
<text x="457.56" y="237.50" font-family="Liberation Serif" font-size="11" fill="#5f5f5f" font-weight="bold" text-anchor="middle" stroke="#5f5f5f" stroke-width="0.4" >21</text>
<text x="475.93" y="237.50" font-family="Liberation Serif" font-size="11" fill="#5f5f5f" font-weight="bold" text-anchor="middle" stroke="#5f5f5f" stroke-width="0.4" >21</text>
<text x="494.30" y="237.50" font-family="Liberation Serif" font-size="11" fill="#5f5f5f" font-weight="bold" text-anchor="middle" stroke="#5f5f5f" stroke-width="0.4" >87</text>
<text x="273.80" y="247.40" font-family="Liberation Serif" font-size="10" fill="#000" font-weight="bold" textLength="23.40" lengthAdjust="spacingAndGlyphs" stroke="#000" stroke-width="0.4" >TSS2</text>
<text x="310.60" y="247.40" font-family="Liberation Serif" font-size="11" fill="#c2502a" font-weight="bold" text-anchor="middle" stroke="#c2502a" stroke-width="0.4" >25</text>
<text x="328.97" y="247.40" font-family="Liberation Serif" font-size="11" fill="#c2502a" font-weight="bold" text-anchor="middle" stroke="#c2502a" stroke-width="0.4" >24</text>
<text x="347.34" y="247.40" font-family="Liberation Serif" font-size="11" fill="#c2502a" font-weight="bold" text-anchor="middle" stroke="#c2502a" stroke-width="0.4" >26</text>
<text x="365.71" y="247.40" font-family="Liberation Serif" font-size="11" fill="#c2502a" font-weight="bold" text-anchor="middle" stroke="#c2502a" stroke-width="0.4" >33</text>
<text x="384.08" y="247.40" font-family="Liberation Serif" font-size="11" fill="#c2502a" font-weight="bold" text-anchor="middle" stroke="#c2502a" stroke-width="0.4" >12</text>
<text x="402.45" y="247.40" font-family="Liberation Serif" font-size="11" fill="#c2502a" font-weight="bold" text-anchor="middle" stroke="#c2502a" stroke-width="0.4" >38</text>
<text x="420.82" y="247.40" font-family="Liberation Serif" font-size="11" fill="#c2502a" font-weight="bold" text-anchor="middle" stroke="#c2502a" stroke-width="0.4" >11</text>
<text x="439.19" y="247.40" font-family="Liberation Serif" font-size="11" fill="#c2502a" font-weight="bold" text-anchor="middle" stroke="#c2502a" stroke-width="0.4" >25</text>
<text x="457.56" y="247.40" font-family="Liberation Serif" font-size="11" fill="#c2502a" font-weight="bold" text-anchor="middle" stroke="#c2502a" stroke-width="0.4" >17</text>
<text x="475.93" y="247.40" font-family="Liberation Serif" font-size="11" fill="#c2502a" font-weight="bold" text-anchor="middle" stroke="#c2502a" stroke-width="0.4" >16</text>
<text x="494.30" y="247.40" font-family="Liberation Serif" font-size="11" fill="#c2502a" font-weight="bold" text-anchor="middle" stroke="#c2502a" stroke-width="0.4" >40</text>
<text x="507.40" y="225.40" font-family="Liberation Serif" font-size="10" fill="#000" font-weight="bold" textLength="25.00" lengthAdjust="spacingAndGlyphs" transform="rotate(90 507.40 225.40)" stroke="#000" stroke-width="0.4" >TPM</text>
<rect x="300.00" y="24.50" width="168.75" height="9.00" fill="#cacaca" stroke="#666" stroke-width="0.9"/>
<text x="301.60" y="32.20" font-family="Liberation Serif" font-size="9.4" fill="#000" font-weight="bold" textLength="154.60" lengthAdjust="spacingAndGlyphs" stroke="#000" stroke-width="0.4" >hg19::chrXVII: 42,142,397-42,212,736</text>
<rect x="457.00" y="24.90" width="2.50" height="8.20" fill="#e8a540"/>
<rect x="462.00" y="24.90" width="1.40" height="8.20" fill="#999"/>
<rect x="465.50" y="24.90" width="1.40" height="8.20" fill="#888"/>
<line x1="458.30" y1="33.50" x2="458.30" y2="49.00" stroke="#c98a30" stroke-width="0.7" />
<rect x="405.50" y="37.50" width="59.50" height="8.00" fill="#a2a2a2"/>
<path d="M398.75 41.50 L402.25 37.50 L405.50 37.50 L405.50 45.50 L402.25 45.50Z" fill="#000"/>
<path d="M404.90 39.10 L402.50 41.50 L404.90 43.90" fill="none" stroke="#ddd" stroke-width="0.9"/>
<text x="405.80" y="44.10" font-family="Liberation Serif" font-size="9.4" fill="#fff" font-weight="bold" textLength="58.70" lengthAdjust="spacingAndGlyphs" stroke="none">42200997-1033</text>
<rect x="401.25" y="48.75" width="58.25" height="8.25" fill="#e8a540"/>
<path d="M395.50 52.88 L399.00 48.75 L401.25 48.75 L401.25 57.00 L399.00 57.00Z" fill="#000"/>
<path d="M400.65 50.35 L398.25 52.88 L400.65 55.40" fill="none" stroke="#ddd" stroke-width="0.9"/>
<text x="401.55" y="55.60" font-family="Liberation Serif" font-size="9.4" fill="#000" font-weight="bold" textLength="57.45" lengthAdjust="spacingAndGlyphs" stroke="none">42200958-989</text>
<text x="467.50" y="45.00" font-family="Liberation Serif" font-size="9.3" fill="#000" font-weight="bold" textLength="20.00" lengthAdjust="spacingAndGlyphs" stroke="#000" stroke-width="0.4" >TSS1</text>
<text x="461.25" y="56.30" font-family="Liberation Serif" font-size="9.3" fill="#000" font-weight="bold" textLength="21.00" lengthAdjust="spacingAndGlyphs" stroke="#000" stroke-width="0.4" >TSS2</text>
<line x1="488.75" y1="42.00" x2="505.00" y2="42.00" stroke="#9c9c9c" stroke-width="1.8" />
<circle cx="497.00" cy="42.00" r="2.8" fill="#9c9c9c"/>
<line x1="488.75" y1="53.50" x2="505.50" y2="53.50" stroke="#d4692a" stroke-width="1.4" />
<path d="M497.00 50.76 L499.23 54.83 L494.77 54.83Z" fill="#e58f4c" stroke="#d4692a" stroke-width="1.3" stroke-linejoin="round"/>
<line x1="29.80" y1="447.60" x2="29.80" y2="544.80" stroke="#bdbdbd" stroke-width="0.9" stroke-dasharray="2.2,1.6" />
<line x1="47.87" y1="447.60" x2="47.87" y2="544.80" stroke="#bdbdbd" stroke-width="0.9" stroke-dasharray="2.2,1.6" />
<line x1="47.87" y1="446.60" x2="47.87" y2="449.10" stroke="#000" stroke-width="1" />
<line x1="66.41" y1="447.60" x2="66.41" y2="544.80" stroke="#bdbdbd" stroke-width="0.9" stroke-dasharray="2.2,1.6" />
<line x1="66.41" y1="446.60" x2="66.41" y2="449.10" stroke="#000" stroke-width="1" />
<line x1="84.95" y1="447.60" x2="84.95" y2="544.80" stroke="#bdbdbd" stroke-width="0.9" stroke-dasharray="2.2,1.6" />
<line x1="84.95" y1="446.60" x2="84.95" y2="449.10" stroke="#000" stroke-width="1" />
<line x1="103.49" y1="447.60" x2="103.49" y2="544.80" stroke="#bdbdbd" stroke-width="0.9" stroke-dasharray="2.2,1.6" />
<line x1="103.49" y1="446.60" x2="103.49" y2="449.10" stroke="#000" stroke-width="1" />
<line x1="122.03" y1="447.60" x2="122.03" y2="544.80" stroke="#bdbdbd" stroke-width="0.9" stroke-dasharray="2.2,1.6" />
<line x1="122.03" y1="446.60" x2="122.03" y2="449.10" stroke="#000" stroke-width="1" />
<line x1="140.57" y1="447.60" x2="140.57" y2="544.80" stroke="#bdbdbd" stroke-width="0.9" stroke-dasharray="2.2,1.6" />
<line x1="140.57" y1="446.60" x2="140.57" y2="449.10" stroke="#000" stroke-width="1" />
<line x1="159.11" y1="447.60" x2="159.11" y2="544.80" stroke="#bdbdbd" stroke-width="0.9" stroke-dasharray="2.2,1.6" />
<line x1="159.11" y1="446.60" x2="159.11" y2="449.10" stroke="#000" stroke-width="1" />
<line x1="177.65" y1="447.60" x2="177.65" y2="544.80" stroke="#bdbdbd" stroke-width="0.9" stroke-dasharray="2.2,1.6" />
<line x1="177.65" y1="446.60" x2="177.65" y2="449.10" stroke="#000" stroke-width="1" />
<line x1="196.19" y1="447.60" x2="196.19" y2="544.80" stroke="#bdbdbd" stroke-width="0.9" stroke-dasharray="2.2,1.6" />
<line x1="196.19" y1="446.60" x2="196.19" y2="449.10" stroke="#000" stroke-width="1" />
<line x1="214.73" y1="447.60" x2="214.73" y2="544.80" stroke="#bdbdbd" stroke-width="0.9" stroke-dasharray="2.2,1.6" />
<line x1="214.73" y1="446.60" x2="214.73" y2="449.10" stroke="#000" stroke-width="1" />
<line x1="233.27" y1="447.60" x2="233.27" y2="544.80" stroke="#bdbdbd" stroke-width="0.9" stroke-dasharray="2.2,1.6" />
<line x1="233.27" y1="446.60" x2="233.27" y2="449.10" stroke="#000" stroke-width="1" />
<line x1="29.30" y1="352.05" x2="29.30" y2="447.60" stroke="#000" stroke-width="1.8" />
<line x1="28.40" y1="446.60" x2="232.50" y2="446.60" stroke="#000" stroke-width="1.8" />
<line x1="26.80" y1="446.60" x2="29.30" y2="446.60" stroke="#000" stroke-width="1.2" />
<text x="26.40" y="450.20" font-family="Liberation Serif" font-size="10.5" fill="#000" font-weight="bold" text-anchor="end" textLength="4.80" lengthAdjust="spacingAndGlyphs" stroke="#000" stroke-width="0.4" >0</text>
<line x1="26.80" y1="425.70" x2="29.30" y2="425.70" stroke="#000" stroke-width="1.2" />
<text x="26.40" y="429.30" font-family="Liberation Serif" font-size="10.5" fill="#000" font-weight="bold" text-anchor="end" textLength="8.60" lengthAdjust="spacingAndGlyphs" stroke="#000" stroke-width="0.4" >20</text>
<line x1="26.80" y1="404.80" x2="29.30" y2="404.80" stroke="#000" stroke-width="1.2" />
<text x="26.40" y="408.40" font-family="Liberation Serif" font-size="10.5" fill="#000" font-weight="bold" text-anchor="end" textLength="8.60" lengthAdjust="spacingAndGlyphs" stroke="#000" stroke-width="0.4" >40</text>
<line x1="26.80" y1="383.90" x2="29.30" y2="383.90" stroke="#000" stroke-width="1.2" />
<text x="26.40" y="387.50" font-family="Liberation Serif" font-size="10.5" fill="#000" font-weight="bold" text-anchor="end" textLength="8.60" lengthAdjust="spacingAndGlyphs" stroke="#000" stroke-width="0.4" >60</text>
<line x1="26.80" y1="363.00" x2="29.30" y2="363.00" stroke="#000" stroke-width="1.2" />
<text x="26.40" y="366.60" font-family="Liberation Serif" font-size="10.5" fill="#000" font-weight="bold" text-anchor="end" textLength="8.60" lengthAdjust="spacingAndGlyphs" stroke="#000" stroke-width="0.4" >80</text>
<text x="9.50" y="412.50" font-family="Liberation Serif" font-size="12" fill="#000" font-weight="bold" text-anchor="middle" textLength="197.60" lengthAdjust="spacingAndGlyphs" transform="rotate(-90 9.50 412.50)" stroke="#000" stroke-width="0.4" >Percent expression of CHRAC1 from TSS</text>
<text x="41.80" y="449.70" font-family="Liberation Serif" font-size="12.5" fill="#000" font-weight="bold" text-anchor="end" transform="rotate(-90 41.80 449.70)" stroke="#000" stroke-width="0.4" >DC plasma</text>
<text x="60.34" y="449.70" font-family="Liberation Serif" font-size="12.5" fill="#000" font-weight="bold" text-anchor="end" transform="rotate(-90 60.34 449.70)" stroke="#000" stroke-width="0.4" >CD8 T cells</text>
<text x="78.88" y="449.70" font-family="Liberation Serif" font-size="12.5" fill="#000" font-weight="bold" text-anchor="end" transform="rotate(-90 78.88 449.70)" stroke="#000" stroke-width="0.4" >NK cells</text>
<text x="97.42" y="449.70" font-family="Liberation Serif" font-size="12.5" fill="#000" font-weight="bold" text-anchor="end" transform="rotate(-90 97.42 449.70)" stroke="#000" stroke-width="0.4" >CD4 T cells</text>
<text x="115.96" y="449.70" font-family="Liberation Serif" font-size="12.5" fill="#000" font-weight="bold" text-anchor="end" transform="rotate(-90 115.96 449.70)" stroke="#000" stroke-width="0.4" >Basophils</text>
<text x="134.50" y="449.70" font-family="Liberation Serif" font-size="12.5" fill="#000" font-weight="bold" text-anchor="end" transform="rotate(-90 134.50 449.70)" stroke="#000" stroke-width="0.4" >Monocytes</text>
<text x="153.04" y="449.70" font-family="Liberation Serif" font-size="12.5" fill="#000" font-weight="bold" text-anchor="end" transform="rotate(-90 153.04 449.70)" stroke="#000" stroke-width="0.4" >B cells</text>
<text x="171.58" y="449.70" font-family="Liberation Serif" font-size="12.5" fill="#000" font-weight="bold" text-anchor="end" transform="rotate(-90 171.58 449.70)" stroke="#000" stroke-width="0.4" >Progenitors</text>
<text x="190.12" y="449.70" font-family="Liberation Serif" font-size="12.5" fill="#000" font-weight="bold" text-anchor="end" transform="rotate(-90 190.12 449.70)" stroke="#000" stroke-width="0.4" >Mast cells</text>
<text x="208.66" y="449.70" font-family="Liberation Serif" font-size="12.5" fill="#000" font-weight="bold" text-anchor="end" transform="rotate(-90 208.66 449.70)" stroke="#000" stroke-width="0.4" >Neutrophils</text>
<text x="227.20" y="449.70" font-family="Liberation Serif" font-size="12.5" fill="#000" font-weight="bold" text-anchor="end" transform="rotate(-90 227.20 449.70)" stroke="#000" stroke-width="0.4" >Eosinophils</text>
<line x1="37.50" y1="407.94" x2="37.50" y2="418.39" stroke="#2a2a2a" stroke-width="1" />
<line x1="35.90" y1="407.94" x2="39.10" y2="407.94" stroke="#2a2a2a" stroke-width="1.1" />
<line x1="35.90" y1="418.39" x2="39.10" y2="418.39" stroke="#2a2a2a" stroke-width="1.1" />
<line x1="56.50" y1="405.85" x2="56.50" y2="421.52" stroke="#2a2a2a" stroke-width="1" />
<line x1="54.90" y1="405.85" x2="58.10" y2="405.85" stroke="#2a2a2a" stroke-width="1.1" />
<line x1="54.90" y1="421.52" x2="58.10" y2="421.52" stroke="#2a2a2a" stroke-width="1.1" />
<line x1="74.50" y1="405.85" x2="74.50" y2="423.61" stroke="#2a2a2a" stroke-width="1" />
<line x1="72.90" y1="405.85" x2="76.10" y2="405.85" stroke="#2a2a2a" stroke-width="1.1" />
<line x1="72.90" y1="423.61" x2="76.10" y2="423.61" stroke="#2a2a2a" stroke-width="1.1" />
<line x1="111.50" y1="415.25" x2="111.50" y2="422.57" stroke="#2a2a2a" stroke-width="1" />
<line x1="109.90" y1="415.25" x2="113.10" y2="415.25" stroke="#2a2a2a" stroke-width="1.1" />
<line x1="109.90" y1="422.57" x2="113.10" y2="422.57" stroke="#2a2a2a" stroke-width="1.1" />
<line x1="148.50" y1="398.53" x2="148.50" y2="407.94" stroke="#2a2a2a" stroke-width="1" />
<line x1="146.90" y1="398.53" x2="150.10" y2="398.53" stroke="#2a2a2a" stroke-width="1.1" />
<line x1="146.90" y1="407.94" x2="150.10" y2="407.94" stroke="#2a2a2a" stroke-width="1.1" />
<line x1="167.50" y1="399.58" x2="167.50" y2="414.21" stroke="#2a2a2a" stroke-width="1" />
<line x1="165.90" y1="399.58" x2="169.10" y2="399.58" stroke="#2a2a2a" stroke-width="1.1" />
<line x1="165.90" y1="414.21" x2="169.10" y2="414.21" stroke="#2a2a2a" stroke-width="1.1" />
<line x1="185.50" y1="375.54" x2="185.50" y2="412.12" stroke="#2a2a2a" stroke-width="1" />
<line x1="183.90" y1="375.54" x2="187.10" y2="375.54" stroke="#2a2a2a" stroke-width="1.1" />
<line x1="183.90" y1="412.12" x2="187.10" y2="412.12" stroke="#2a2a2a" stroke-width="1.1" />
<line x1="204.50" y1="361.96" x2="204.50" y2="376.59" stroke="#2a2a2a" stroke-width="1" />
<line x1="202.90" y1="361.96" x2="206.10" y2="361.96" stroke="#2a2a2a" stroke-width="1.1" />
<line x1="202.90" y1="376.59" x2="206.10" y2="376.59" stroke="#2a2a2a" stroke-width="1.1" />
<line x1="222.50" y1="356.73" x2="222.50" y2="380.77" stroke="#2a2a2a" stroke-width="1" />
<line x1="220.90" y1="356.73" x2="224.10" y2="356.73" stroke="#2a2a2a" stroke-width="1.1" />
<line x1="220.90" y1="380.77" x2="224.10" y2="380.77" stroke="#2a2a2a" stroke-width="1.1" />
<path d="M37.60 412.32 L56.14 412.85 L74.68 414.83 L93.22 414.31 L111.76 419.43 L130.30 428.31 L148.84 402.40 L167.38 404.80 L185.92 394.35 L204.46 367.81 L223.00 367.81" fill="none" stroke="#787878" stroke-width="2.2" stroke-linejoin="round"/>
<circle cx="37.60" cy="412.32" r="2.6" fill="#787878"/>
<circle cx="56.14" cy="412.85" r="2.6" fill="#787878"/>
<circle cx="74.68" cy="414.83" r="2.6" fill="#787878"/>
<circle cx="93.22" cy="414.31" r="2.6" fill="#787878"/>
<circle cx="111.76" cy="419.43" r="2.6" fill="#787878"/>
<circle cx="130.30" cy="428.31" r="2.6" fill="#787878"/>
<circle cx="148.84" cy="402.40" r="2.6" fill="#787878"/>
<circle cx="167.38" cy="404.80" r="2.6" fill="#787878"/>
<circle cx="185.92" cy="394.35" r="2.6" fill="#787878"/>
<circle cx="204.46" cy="367.81" r="2.6" fill="#787878"/>
<circle cx="223.00" cy="367.81" r="2.6" fill="#787878"/>
<line x1="37.50" y1="369.27" x2="37.50" y2="380.77" stroke="#2a2a2a" stroke-width="1" />
<line x1="35.90" y1="369.27" x2="39.10" y2="369.27" stroke="#2a2a2a" stroke-width="1.1" />
<line x1="35.90" y1="380.77" x2="39.10" y2="380.77" stroke="#2a2a2a" stroke-width="1.1" />
<line x1="56.50" y1="366.14" x2="56.50" y2="382.86" stroke="#2a2a2a" stroke-width="1" />
<line x1="54.90" y1="366.14" x2="58.10" y2="366.14" stroke="#2a2a2a" stroke-width="1.1" />
<line x1="54.90" y1="382.86" x2="58.10" y2="382.86" stroke="#2a2a2a" stroke-width="1.1" />
<line x1="74.50" y1="363.00" x2="74.50" y2="380.77" stroke="#2a2a2a" stroke-width="1" />
<line x1="72.90" y1="363.00" x2="76.10" y2="363.00" stroke="#2a2a2a" stroke-width="1.1" />
<line x1="72.90" y1="380.77" x2="76.10" y2="380.77" stroke="#2a2a2a" stroke-width="1.1" />
<line x1="111.50" y1="365.09" x2="111.50" y2="373.45" stroke="#2a2a2a" stroke-width="1" />
<line x1="109.90" y1="365.09" x2="113.10" y2="365.09" stroke="#2a2a2a" stroke-width="1.1" />
<line x1="109.90" y1="373.45" x2="113.10" y2="373.45" stroke="#2a2a2a" stroke-width="1.1" />
<line x1="148.50" y1="380.77" x2="148.50" y2="388.08" stroke="#2a2a2a" stroke-width="1" />
<line x1="146.90" y1="380.77" x2="150.10" y2="380.77" stroke="#2a2a2a" stroke-width="1.1" />
<line x1="146.90" y1="388.08" x2="150.10" y2="388.08" stroke="#2a2a2a" stroke-width="1.1" />
<line x1="167.50" y1="373.45" x2="167.50" y2="387.04" stroke="#2a2a2a" stroke-width="1" />
<line x1="165.90" y1="373.45" x2="169.10" y2="373.45" stroke="#2a2a2a" stroke-width="1.1" />
<line x1="165.90" y1="387.04" x2="169.10" y2="387.04" stroke="#2a2a2a" stroke-width="1.1" />
<line x1="204.50" y1="411.07" x2="204.50" y2="426.75" stroke="#2a2a2a" stroke-width="1" />
<line x1="202.90" y1="411.07" x2="206.10" y2="411.07" stroke="#2a2a2a" stroke-width="1.1" />
<line x1="202.90" y1="426.75" x2="206.10" y2="426.75" stroke="#2a2a2a" stroke-width="1.1" />
<line x1="222.50" y1="407.94" x2="222.50" y2="430.93" stroke="#2a2a2a" stroke-width="1" />
<line x1="220.90" y1="407.94" x2="224.10" y2="407.94" stroke="#2a2a2a" stroke-width="1.1" />
<line x1="220.90" y1="430.93" x2="224.10" y2="430.93" stroke="#2a2a2a" stroke-width="1.1" />
<path d="M37.60 376.06 L56.14 375.54 L74.68 373.14 L93.22 373.14 L111.76 369.06 L130.30 359.34 L148.84 384.95 L167.38 382.33 L185.92 394.35 L204.46 420.37 L223.00 420.37" fill="none" stroke="#d4692a" stroke-width="2.2" stroke-linejoin="round"/>
<path d="M37.60 373.18 L40.23 377.98 L34.97 377.98Z" fill="#e58f4c" stroke="#d4692a" stroke-width="1.3" stroke-linejoin="round"/>
<path d="M56.14 372.66 L58.77 377.46 L53.51 377.46Z" fill="#e58f4c" stroke="#d4692a" stroke-width="1.3" stroke-linejoin="round"/>
<path d="M74.68 370.25 L77.31 375.06 L72.05 375.06Z" fill="#e58f4c" stroke="#d4692a" stroke-width="1.3" stroke-linejoin="round"/>
<path d="M93.22 370.25 L95.85 375.06 L90.59 375.06Z" fill="#e58f4c" stroke="#d4692a" stroke-width="1.3" stroke-linejoin="round"/>
<path d="M111.76 366.18 L114.39 370.98 L109.13 370.98Z" fill="#e58f4c" stroke="#d4692a" stroke-width="1.3" stroke-linejoin="round"/>
<path d="M130.30 356.46 L132.93 361.26 L127.67 361.26Z" fill="#e58f4c" stroke="#d4692a" stroke-width="1.3" stroke-linejoin="round"/>
<path d="M148.84 382.06 L151.47 386.87 L146.21 386.87Z" fill="#e58f4c" stroke="#d4692a" stroke-width="1.3" stroke-linejoin="round"/>
<path d="M167.38 379.45 L170.01 384.25 L164.75 384.25Z" fill="#e58f4c" stroke="#d4692a" stroke-width="1.3" stroke-linejoin="round"/>
<path d="M185.92 391.47 L188.55 396.27 L183.29 396.27Z" fill="#e58f4c" stroke="#d4692a" stroke-width="1.3" stroke-linejoin="round"/>
<path d="M204.46 417.49 L207.09 422.29 L201.83 422.29Z" fill="#e58f4c" stroke="#d4692a" stroke-width="1.3" stroke-linejoin="round"/>
<path d="M223.00 417.49 L225.63 422.29 L220.37 422.29Z" fill="#e58f4c" stroke="#d4692a" stroke-width="1.3" stroke-linejoin="round"/>
<line x1="0.00" y1="516.00" x2="244.40" y2="516.00" stroke="#000" stroke-width="2" stroke-dasharray="3,1.7" />
<line x1="0.00" y1="544.80" x2="244.40" y2="544.80" stroke="#000" stroke-width="2" stroke-dasharray="3,1.7" />
<line x1="243.80" y1="516.00" x2="243.80" y2="544.80" stroke="#000" stroke-width="1.6" stroke-dasharray="1.6,1.6" />
<text x="1.70" y="529.80" font-family="Liberation Serif" font-size="10" fill="#000" font-weight="bold" stroke="#000" stroke-width="0.4" >TSS1</text>
<text x="39.20" y="529.80" font-family="Liberation Serif" font-size="11.6" fill="#5f5f5f" font-weight="bold" text-anchor="middle" stroke="#5f5f5f" stroke-width="0.4" >14</text>
<text x="57.74" y="529.80" font-family="Liberation Serif" font-size="11.6" fill="#5f5f5f" font-weight="bold" text-anchor="middle" stroke="#5f5f5f" stroke-width="0.4" >11</text>
<text x="76.28" y="529.80" font-family="Liberation Serif" font-size="11.6" fill="#5f5f5f" font-weight="bold" text-anchor="middle" stroke="#5f5f5f" stroke-width="0.4" >11</text>
<text x="94.82" y="529.80" font-family="Liberation Serif" font-size="11.6" fill="#5f5f5f" font-weight="bold" text-anchor="middle" stroke="#5f5f5f" stroke-width="0.4" >11</text>
<text x="113.36" y="529.80" font-family="Liberation Serif" font-size="11.6" fill="#5f5f5f" font-weight="bold" text-anchor="middle" stroke="#5f5f5f" stroke-width="0.4" >13</text>
<text x="131.90" y="529.80" font-family="Liberation Serif" font-size="11.6" fill="#5f5f5f" font-weight="bold" text-anchor="middle" stroke="#5f5f5f" stroke-width="0.4" >08</text>
<text x="150.44" y="529.80" font-family="Liberation Serif" font-size="11.6" fill="#5f5f5f" font-weight="bold" text-anchor="middle" stroke="#5f5f5f" stroke-width="0.4" >21</text>
<text x="168.98" y="529.80" font-family="Liberation Serif" font-size="11.6" fill="#5f5f5f" font-weight="bold" text-anchor="middle" stroke="#5f5f5f" stroke-width="0.4" >14</text>
<text x="187.52" y="529.80" font-family="Liberation Serif" font-size="11.6" fill="#5f5f5f" font-weight="bold" text-anchor="middle" stroke="#5f5f5f" stroke-width="0.4" >14</text>
<text x="206.06" y="529.80" font-family="Liberation Serif" font-size="11.6" fill="#5f5f5f" font-weight="bold" text-anchor="middle" stroke="#5f5f5f" stroke-width="0.4" >34</text>
<text x="224.60" y="529.80" font-family="Liberation Serif" font-size="11.6" fill="#5f5f5f" font-weight="bold" text-anchor="middle" stroke="#5f5f5f" stroke-width="0.4" >27</text>
<text x="1.70" y="539.60" font-family="Liberation Serif" font-size="10" fill="#000" font-weight="bold" stroke="#000" stroke-width="0.4" >TSS2</text>
<text x="39.20" y="539.60" font-family="Liberation Serif" font-size="11.6" fill="#c2502a" font-weight="bold" text-anchor="middle" stroke="#c2502a" stroke-width="0.4" >27</text>
<text x="57.74" y="539.60" font-family="Liberation Serif" font-size="11.6" fill="#c2502a" font-weight="bold" text-anchor="middle" stroke="#c2502a" stroke-width="0.4" >24</text>
<text x="76.28" y="539.60" font-family="Liberation Serif" font-size="11.6" fill="#c2502a" font-weight="bold" text-anchor="middle" stroke="#c2502a" stroke-width="0.4" >27</text>
<text x="94.82" y="539.60" font-family="Liberation Serif" font-size="11.6" fill="#c2502a" font-weight="bold" text-anchor="middle" stroke="#c2502a" stroke-width="0.4" >26</text>
<text x="113.36" y="539.60" font-family="Liberation Serif" font-size="11.6" fill="#c2502a" font-weight="bold" text-anchor="middle" stroke="#c2502a" stroke-width="0.4" >38</text>
<text x="131.90" y="539.60" font-family="Liberation Serif" font-size="11.6" fill="#c2502a" font-weight="bold" text-anchor="middle" stroke="#c2502a" stroke-width="0.4" >38</text>
<text x="150.44" y="539.60" font-family="Liberation Serif" font-size="11.6" fill="#c2502a" font-weight="bold" text-anchor="middle" stroke="#c2502a" stroke-width="0.4" >30</text>
<text x="168.98" y="539.60" font-family="Liberation Serif" font-size="11.6" fill="#c2502a" font-weight="bold" text-anchor="middle" stroke="#c2502a" stroke-width="0.4" >22</text>
<text x="187.52" y="539.60" font-family="Liberation Serif" font-size="11.6" fill="#c2502a" font-weight="bold" text-anchor="middle" stroke="#c2502a" stroke-width="0.4" >14</text>
<text x="206.06" y="539.60" font-family="Liberation Serif" font-size="11.6" fill="#c2502a" font-weight="bold" text-anchor="middle" stroke="#c2502a" stroke-width="0.4" >11</text>
<text x="224.60" y="539.60" font-family="Liberation Serif" font-size="11.6" fill="#c2502a" font-weight="bold" text-anchor="middle" stroke="#c2502a" stroke-width="0.4" >11</text>
<text x="236.40" y="518.80" font-family="Liberation Serif" font-size="10" fill="#000" font-weight="bold" textLength="25.00" lengthAdjust="spacingAndGlyphs" transform="rotate(90 236.40 518.80)" stroke="#000" stroke-width="0.4" >TPM</text>
<rect x="66.25" y="319.00" width="175.00" height="8.70" fill="#cacaca" stroke="#666" stroke-width="0.9"/>
<rect x="67.60" y="319.40" width="1.40" height="7.90" fill="#999"/>
<rect x="71.20" y="319.40" width="2.40" height="7.90" fill="#e8a540"/>
<rect x="74.40" y="319.40" width="1.20" height="7.90" fill="#999"/>
<text x="77.00" y="326.40" font-family="Liberation Serif" font-size="9.4" fill="#000" font-weight="bold" textLength="162.00" lengthAdjust="spacingAndGlyphs" stroke="#000" stroke-width="0.4" >hg19::chrVIII: 141,519,937-141,528,714</text>
<line x1="72.40" y1="327.70" x2="72.40" y2="343.50" stroke="#c98a30" stroke-width="0.7" />
<rect x="67.60" y="332.60" width="62.90" height="7.60" fill="#a2a2a2"/>
<path d="M140.00 336.40 L136.50 332.60 L130.50 332.60 L130.50 340.20 L136.50 340.20Z" fill="#000"/>
<path d="M131.10 334.20 L133.50 336.40 L131.10 338.60" fill="none" stroke="#ddd" stroke-width="0.9"/>
<text x="68.10" y="338.80" font-family="Liberation Serif" font-size="9.4" fill="#fff" font-weight="bold" textLength="62.10" lengthAdjust="spacingAndGlyphs" stroke="none">141521386-469</text>
<rect x="72.20" y="343.30" width="65.80" height="8.50" fill="#e8a540"/>
<path d="M147.50 347.55 L144.00 343.30 L138.00 343.30 L138.00 351.80 L144.00 351.80Z" fill="#000"/>
<path d="M138.60 344.90 L141.00 347.55 L138.60 350.20" fill="none" stroke="#ddd" stroke-width="0.9"/>
<text x="72.70" y="350.40" font-family="Liberation Serif" font-size="9.4" fill="#000" font-weight="bold" textLength="65.00" lengthAdjust="spacingAndGlyphs" stroke="none">141521493-532</text>
<text x="45.00" y="339.60" font-family="Liberation Serif" font-size="9.3" fill="#000" font-weight="bold" textLength="21.20" lengthAdjust="spacingAndGlyphs" stroke="#000" stroke-width="0.4" >TSS1</text>
<text x="49.50" y="350.30" font-family="Liberation Serif" font-size="9.3" fill="#000" font-weight="bold" textLength="20.50" lengthAdjust="spacingAndGlyphs" stroke="#000" stroke-width="0.4" >TSS2</text>
<line x1="26.20" y1="336.50" x2="43.80" y2="336.50" stroke="#9c9c9c" stroke-width="1.8" />
<circle cx="35.00" cy="336.50" r="2.8" fill="#9c9c9c"/>
<line x1="26.20" y1="347.00" x2="43.80" y2="347.00" stroke="#d4692a" stroke-width="1.4" />
<path d="M35.00 344.26 L37.23 348.33 L32.77 348.33Z" fill="#e58f4c" stroke="#d4692a" stroke-width="1.3" stroke-linejoin="round"/>
<line x1="279.40" y1="421.80" x2="279.40" y2="544.40" stroke="#bdbdbd" stroke-width="0.9" stroke-dasharray="2.2,1.6" />
<line x1="297.04" y1="421.80" x2="297.04" y2="544.40" stroke="#bdbdbd" stroke-width="0.9" stroke-dasharray="2.2,1.6" />
<line x1="297.04" y1="420.80" x2="297.04" y2="423.30" stroke="#000" stroke-width="1" />
<line x1="314.72" y1="421.80" x2="314.72" y2="544.40" stroke="#bdbdbd" stroke-width="0.9" stroke-dasharray="2.2,1.6" />
<line x1="314.72" y1="420.80" x2="314.72" y2="423.30" stroke="#000" stroke-width="1" />
<line x1="332.40" y1="421.80" x2="332.40" y2="544.40" stroke="#bdbdbd" stroke-width="0.9" stroke-dasharray="2.2,1.6" />
<line x1="332.40" y1="420.80" x2="332.40" y2="423.30" stroke="#000" stroke-width="1" />
<line x1="350.08" y1="421.80" x2="350.08" y2="544.40" stroke="#bdbdbd" stroke-width="0.9" stroke-dasharray="2.2,1.6" />
<line x1="350.08" y1="420.80" x2="350.08" y2="423.30" stroke="#000" stroke-width="1" />
<line x1="367.76" y1="421.80" x2="367.76" y2="544.40" stroke="#bdbdbd" stroke-width="0.9" stroke-dasharray="2.2,1.6" />
<line x1="367.76" y1="420.80" x2="367.76" y2="423.30" stroke="#000" stroke-width="1" />
<line x1="385.44" y1="421.80" x2="385.44" y2="544.40" stroke="#bdbdbd" stroke-width="0.9" stroke-dasharray="2.2,1.6" />
<line x1="385.44" y1="420.80" x2="385.44" y2="423.30" stroke="#000" stroke-width="1" />
<line x1="403.12" y1="421.80" x2="403.12" y2="544.40" stroke="#bdbdbd" stroke-width="0.9" stroke-dasharray="2.2,1.6" />
<line x1="403.12" y1="420.80" x2="403.12" y2="423.30" stroke="#000" stroke-width="1" />
<line x1="420.80" y1="421.80" x2="420.80" y2="544.40" stroke="#bdbdbd" stroke-width="0.9" stroke-dasharray="2.2,1.6" />
<line x1="420.80" y1="420.80" x2="420.80" y2="423.30" stroke="#000" stroke-width="1" />
<line x1="438.48" y1="421.80" x2="438.48" y2="544.40" stroke="#bdbdbd" stroke-width="0.9" stroke-dasharray="2.2,1.6" />
<line x1="438.48" y1="420.80" x2="438.48" y2="423.30" stroke="#000" stroke-width="1" />
<line x1="456.16" y1="421.80" x2="456.16" y2="544.40" stroke="#bdbdbd" stroke-width="0.9" stroke-dasharray="2.2,1.6" />
<line x1="456.16" y1="420.80" x2="456.16" y2="423.30" stroke="#000" stroke-width="1" />
<line x1="473.84" y1="421.80" x2="473.84" y2="544.40" stroke="#bdbdbd" stroke-width="0.9" stroke-dasharray="2.2,1.6" />
<line x1="473.84" y1="420.80" x2="473.84" y2="423.30" stroke="#000" stroke-width="1" />
<line x1="491.52" y1="421.80" x2="491.52" y2="544.40" stroke="#bdbdbd" stroke-width="0.9" stroke-dasharray="2.2,1.6" />
<line x1="491.52" y1="420.80" x2="491.52" y2="423.30" stroke="#000" stroke-width="1" />
<line x1="509.20" y1="421.80" x2="509.20" y2="544.40" stroke="#bdbdbd" stroke-width="0.9" stroke-dasharray="2.2,1.6" />
<line x1="509.20" y1="420.80" x2="509.20" y2="423.30" stroke="#000" stroke-width="1" />
<line x1="278.90" y1="326.25" x2="278.90" y2="421.80" stroke="#000" stroke-width="1.8" />
<line x1="278.00" y1="420.80" x2="507.50" y2="420.80" stroke="#000" stroke-width="1.8" />
<line x1="276.40" y1="420.80" x2="278.90" y2="420.80" stroke="#000" stroke-width="1.2" />
<text x="276.00" y="424.40" font-family="Liberation Serif" font-size="10.5" fill="#000" font-weight="bold" text-anchor="end" textLength="4.80" lengthAdjust="spacingAndGlyphs" stroke="#000" stroke-width="0.4" >0</text>
<line x1="276.40" y1="401.99" x2="278.90" y2="401.99" stroke="#000" stroke-width="1.2" />
<text x="276.00" y="405.59" font-family="Liberation Serif" font-size="10.5" fill="#000" font-weight="bold" text-anchor="end" textLength="8.60" lengthAdjust="spacingAndGlyphs" stroke="#000" stroke-width="0.4" >20</text>
<line x1="276.40" y1="383.18" x2="278.90" y2="383.18" stroke="#000" stroke-width="1.2" />
<text x="276.00" y="386.78" font-family="Liberation Serif" font-size="10.5" fill="#000" font-weight="bold" text-anchor="end" textLength="8.60" lengthAdjust="spacingAndGlyphs" stroke="#000" stroke-width="0.4" >40</text>
<line x1="276.40" y1="364.37" x2="278.90" y2="364.37" stroke="#000" stroke-width="1.2" />
<text x="276.00" y="367.97" font-family="Liberation Serif" font-size="10.5" fill="#000" font-weight="bold" text-anchor="end" textLength="8.60" lengthAdjust="spacingAndGlyphs" stroke="#000" stroke-width="0.4" >60</text>
<line x1="276.40" y1="345.56" x2="278.90" y2="345.56" stroke="#000" stroke-width="1.2" />
<text x="276.00" y="349.16" font-family="Liberation Serif" font-size="10.5" fill="#000" font-weight="bold" text-anchor="end" textLength="8.60" lengthAdjust="spacingAndGlyphs" stroke="#000" stroke-width="0.4" >80</text>
<line x1="276.40" y1="326.75" x2="278.90" y2="326.75" stroke="#000" stroke-width="1.2" />
<text x="276.00" y="330.35" font-family="Liberation Serif" font-size="10.5" fill="#000" font-weight="bold" text-anchor="end" textLength="13.20" lengthAdjust="spacingAndGlyphs" stroke="#000" stroke-width="0.4" >100</text>
<text x="262.80" y="411.00" font-family="Liberation Serif" font-size="12" fill="#000" font-weight="bold" text-anchor="middle" textLength="183.00" lengthAdjust="spacingAndGlyphs" transform="rotate(-90 262.80 411.00)" stroke="#000" stroke-width="0.4" >Percent expression of MLL5 from TSS</text>
<text x="291.80" y="424.20" font-family="Liberation Serif" font-size="12.7" fill="#000" font-weight="bold" text-anchor="end" transform="rotate(-90 291.80 424.20)" stroke="#000" stroke-width="0.4" >Eosinophils</text>
<text x="309.48" y="424.20" font-family="Liberation Serif" font-size="12.7" fill="#000" font-weight="bold" text-anchor="end" transform="rotate(-90 309.48 424.20)" stroke="#000" stroke-width="0.4" >Neutrophils</text>
<text x="327.16" y="424.20" font-family="Liberation Serif" font-size="12.7" fill="#000" font-weight="bold" text-anchor="end" transform="rotate(-90 327.16 424.20)" stroke="#000" stroke-width="0.4" >Monocytes</text>
<text x="344.84" y="424.20" font-family="Liberation Serif" font-size="12.7" fill="#000" font-weight="bold" text-anchor="end" transform="rotate(-90 344.84 424.20)" stroke="#000" stroke-width="0.4" >Mast cells</text>
<text x="362.52" y="424.20" font-family="Liberation Serif" font-size="12.7" fill="#000" font-weight="bold" text-anchor="end" transform="rotate(-90 362.52 424.20)" stroke="#000" stroke-width="0.4" >Progenitors</text>
<text x="380.20" y="424.20" font-family="Liberation Serif" font-size="12.7" fill="#000" font-weight="bold" text-anchor="end" transform="rotate(-90 380.20 424.20)" stroke="#000" stroke-width="0.4" >B cells</text>
<text x="397.88" y="424.20" font-family="Liberation Serif" font-size="12.7" fill="#000" font-weight="bold" text-anchor="end" transform="rotate(-90 397.88 424.20)" stroke="#000" stroke-width="0.4" >DC monocytes</text>
<text x="415.56" y="424.20" font-family="Liberation Serif" font-size="12.7" fill="#000" font-weight="bold" text-anchor="end" transform="rotate(-90 415.56 424.20)" stroke="#000" stroke-width="0.4" >Macrophages</text>
<text x="433.24" y="424.20" font-family="Liberation Serif" font-size="12.7" fill="#000" font-weight="bold" text-anchor="end" transform="rotate(-90 433.24 424.20)" stroke="#000" stroke-width="0.4" >CD4 T cells</text>
<text x="450.92" y="424.20" font-family="Liberation Serif" font-size="12.7" fill="#000" font-weight="bold" text-anchor="end" transform="rotate(-90 450.92 424.20)" stroke="#000" stroke-width="0.4" >NK cells</text>
<text x="468.60" y="424.20" font-family="Liberation Serif" font-size="12.7" fill="#000" font-weight="bold" text-anchor="end" transform="rotate(-90 468.60 424.20)" stroke="#000" stroke-width="0.4" >Basophils</text>
<text x="486.28" y="424.20" font-family="Liberation Serif" font-size="12.7" fill="#000" font-weight="bold" text-anchor="end" transform="rotate(-90 486.28 424.20)" stroke="#000" stroke-width="0.4" >DC plasma</text>
<text x="503.96" y="424.20" font-family="Liberation Serif" font-size="12.7" fill="#000" font-weight="bold" text-anchor="end" transform="rotate(-90 503.96 424.20)" stroke="#000" stroke-width="0.4" >CD8 T cells</text>
<line x1="287.50" y1="342.74" x2="287.50" y2="351.20" stroke="#2a2a2a" stroke-width="1" />
<line x1="285.90" y1="342.74" x2="289.10" y2="342.74" stroke="#2a2a2a" stroke-width="1.1" />
<line x1="285.90" y1="351.20" x2="289.10" y2="351.20" stroke="#2a2a2a" stroke-width="1.1" />
<line x1="305.50" y1="343.68" x2="305.50" y2="348.76" stroke="#2a2a2a" stroke-width="1" />
<line x1="303.90" y1="343.68" x2="307.10" y2="343.68" stroke="#2a2a2a" stroke-width="1.1" />
<line x1="303.90" y1="348.76" x2="307.10" y2="348.76" stroke="#2a2a2a" stroke-width="1.1" />
<line x1="323.50" y1="337.47" x2="323.50" y2="342.46" stroke="#2a2a2a" stroke-width="1" />
<line x1="321.90" y1="337.47" x2="325.10" y2="337.47" stroke="#2a2a2a" stroke-width="1.1" />
<line x1="321.90" y1="342.46" x2="325.10" y2="342.46" stroke="#2a2a2a" stroke-width="1.1" />
<line x1="340.50" y1="331.26" x2="340.50" y2="346.22" stroke="#2a2a2a" stroke-width="1" />
<line x1="338.90" y1="331.26" x2="342.10" y2="331.26" stroke="#2a2a2a" stroke-width="1.1" />
<line x1="338.90" y1="346.22" x2="342.10" y2="346.22" stroke="#2a2a2a" stroke-width="1.1" />
<line x1="358.50" y1="341.23" x2="358.50" y2="362.49" stroke="#2a2a2a" stroke-width="1" />
<line x1="356.90" y1="341.23" x2="360.10" y2="341.23" stroke="#2a2a2a" stroke-width="1.1" />
<line x1="356.90" y1="362.49" x2="360.10" y2="362.49" stroke="#2a2a2a" stroke-width="1.1" />
<line x1="376.50" y1="352.52" x2="376.50" y2="362.49" stroke="#2a2a2a" stroke-width="1" />
<line x1="374.90" y1="352.52" x2="378.10" y2="352.52" stroke="#2a2a2a" stroke-width="1.1" />
<line x1="374.90" y1="362.49" x2="378.10" y2="362.49" stroke="#2a2a2a" stroke-width="1.1" />
<line x1="429.50" y1="363.81" x2="429.50" y2="371.61" stroke="#2a2a2a" stroke-width="1" />
<line x1="427.90" y1="363.81" x2="431.10" y2="363.81" stroke="#2a2a2a" stroke-width="1.1" />
<line x1="427.90" y1="371.61" x2="431.10" y2="371.61" stroke="#2a2a2a" stroke-width="1.1" />
<line x1="482.50" y1="367.66" x2="482.50" y2="376.31" stroke="#2a2a2a" stroke-width="1" />
<line x1="480.90" y1="367.66" x2="484.10" y2="367.66" stroke="#2a2a2a" stroke-width="1.1" />
<line x1="480.90" y1="376.31" x2="484.10" y2="376.31" stroke="#2a2a2a" stroke-width="1.1" />
<line x1="499.50" y1="367.66" x2="499.50" y2="376.31" stroke="#2a2a2a" stroke-width="1" />
<line x1="497.90" y1="367.66" x2="501.10" y2="367.66" stroke="#2a2a2a" stroke-width="1.1" />
<line x1="497.90" y1="376.31" x2="501.10" y2="376.31" stroke="#2a2a2a" stroke-width="1.1" />
<path d="M287.80 346.88 L305.48 345.75 L323.16 340.01 L340.84 338.79 L358.52 349.51 L376.20 356.28 L393.88 329.57 L411.56 329.57 L429.24 368.51 L446.92 368.51 L464.60 367.00 L482.28 373.02 L499.96 373.02" fill="none" stroke="#787878" stroke-width="2.2" stroke-linejoin="round"/>
<circle cx="287.80" cy="346.88" r="2.6" fill="#787878"/>
<circle cx="305.48" cy="345.75" r="2.6" fill="#787878"/>
<circle cx="323.16" cy="340.01" r="2.6" fill="#787878"/>
<circle cx="340.84" cy="338.79" r="2.6" fill="#787878"/>
<circle cx="358.52" cy="349.51" r="2.6" fill="#787878"/>
<circle cx="376.20" cy="356.28" r="2.6" fill="#787878"/>
<circle cx="393.88" cy="329.57" r="2.6" fill="#787878"/>
<circle cx="411.56" cy="329.57" r="2.6" fill="#787878"/>
<circle cx="429.24" cy="368.51" r="2.6" fill="#787878"/>
<circle cx="446.92" cy="368.51" r="2.6" fill="#787878"/>
<circle cx="464.60" cy="367.00" r="2.6" fill="#787878"/>
<circle cx="482.28" cy="373.02" r="2.6" fill="#787878"/>
<circle cx="499.96" cy="373.02" r="2.6" fill="#787878"/>
<line x1="287.50" y1="405.75" x2="287.50" y2="412.34" stroke="#2a2a2a" stroke-width="1" />
<line x1="285.90" y1="405.75" x2="289.10" y2="405.75" stroke="#2a2a2a" stroke-width="1.1" />
<line x1="285.90" y1="412.34" x2="289.10" y2="412.34" stroke="#2a2a2a" stroke-width="1.1" />
<line x1="340.50" y1="411.40" x2="340.50" y2="415.16" stroke="#2a2a2a" stroke-width="1" />
<line x1="338.90" y1="411.40" x2="342.10" y2="411.40" stroke="#2a2a2a" stroke-width="1.1" />
<line x1="338.90" y1="415.16" x2="342.10" y2="415.16" stroke="#2a2a2a" stroke-width="1.1" />
<line x1="358.50" y1="400.11" x2="358.50" y2="409.98" stroke="#2a2a2a" stroke-width="1" />
<line x1="356.90" y1="400.11" x2="360.10" y2="400.11" stroke="#2a2a2a" stroke-width="1.1" />
<line x1="356.90" y1="409.98" x2="360.10" y2="409.98" stroke="#2a2a2a" stroke-width="1.1" />
<line x1="376.50" y1="398.23" x2="376.50" y2="409.98" stroke="#2a2a2a" stroke-width="1" />
<line x1="374.90" y1="398.23" x2="378.10" y2="398.23" stroke="#2a2a2a" stroke-width="1.1" />
<line x1="374.90" y1="409.98" x2="378.10" y2="409.98" stroke="#2a2a2a" stroke-width="1.1" />
<line x1="429.50" y1="394.47" x2="429.50" y2="400.11" stroke="#2a2a2a" stroke-width="1" />
<line x1="427.90" y1="394.47" x2="431.10" y2="394.47" stroke="#2a2a2a" stroke-width="1.1" />
<line x1="427.90" y1="400.11" x2="431.10" y2="400.11" stroke="#2a2a2a" stroke-width="1.1" />
<line x1="482.50" y1="389.48" x2="482.50" y2="395.03" stroke="#2a2a2a" stroke-width="1" />
<line x1="480.90" y1="389.48" x2="484.10" y2="389.48" stroke="#2a2a2a" stroke-width="1.1" />
<line x1="480.90" y1="395.03" x2="484.10" y2="395.03" stroke="#2a2a2a" stroke-width="1.1" />
<line x1="499.50" y1="391.64" x2="499.50" y2="395.41" stroke="#2a2a2a" stroke-width="1" />
<line x1="497.90" y1="391.64" x2="501.10" y2="391.64" stroke="#2a2a2a" stroke-width="1.1" />
<line x1="497.90" y1="395.41" x2="501.10" y2="395.41" stroke="#2a2a2a" stroke-width="1.1" />
<path d="M287.80 408.76 L305.48 412.52 L323.16 415.53 L340.84 413.28 L358.52 406.97 L376.20 405.00 L393.88 419.30 L411.56 419.48 L429.24 397.01 L446.92 395.50 L464.60 396.25 L482.28 392.02 L499.96 393.24" fill="none" stroke="#d8843a" stroke-width="2.2" stroke-linejoin="round"/>
<path d="M287.80 405.88 L290.43 410.68 L285.17 410.68Z" fill="#e58f4c" stroke="#d8843a" stroke-width="1.3" stroke-linejoin="round"/>
<path d="M305.48 409.64 L308.11 414.45 L302.85 414.45Z" fill="#e58f4c" stroke="#d8843a" stroke-width="1.3" stroke-linejoin="round"/>
<path d="M323.16 412.65 L325.79 417.46 L320.53 417.46Z" fill="#e58f4c" stroke="#d8843a" stroke-width="1.3" stroke-linejoin="round"/>
<path d="M340.84 410.39 L343.47 415.20 L338.21 415.20Z" fill="#e58f4c" stroke="#d8843a" stroke-width="1.3" stroke-linejoin="round"/>
<path d="M358.52 404.09 L361.15 408.90 L355.89 408.90Z" fill="#e58f4c" stroke="#d8843a" stroke-width="1.3" stroke-linejoin="round"/>
<path d="M376.20 402.12 L378.83 406.92 L373.57 406.92Z" fill="#e58f4c" stroke="#d8843a" stroke-width="1.3" stroke-linejoin="round"/>
<path d="M393.88 416.41 L396.51 421.22 L391.25 421.22Z" fill="#e58f4c" stroke="#d8843a" stroke-width="1.3" stroke-linejoin="round"/>
<path d="M411.56 416.60 L414.19 421.41 L408.93 421.41Z" fill="#e58f4c" stroke="#d8843a" stroke-width="1.3" stroke-linejoin="round"/>
<path d="M429.24 394.12 L431.87 398.93 L426.61 398.93Z" fill="#e58f4c" stroke="#d8843a" stroke-width="1.3" stroke-linejoin="round"/>
<path d="M446.92 392.62 L449.55 397.42 L444.29 397.42Z" fill="#e58f4c" stroke="#d8843a" stroke-width="1.3" stroke-linejoin="round"/>
<path d="M464.60 393.37 L467.23 398.17 L461.97 398.17Z" fill="#e58f4c" stroke="#d8843a" stroke-width="1.3" stroke-linejoin="round"/>
<path d="M482.28 389.14 L484.91 393.94 L479.65 393.94Z" fill="#e58f4c" stroke="#d8843a" stroke-width="1.3" stroke-linejoin="round"/>
<path d="M499.96 390.36 L502.59 395.17 L497.33 395.17Z" fill="#e58f4c" stroke="#d8843a" stroke-width="1.3" stroke-linejoin="round"/>
<path d="M287.80 412.99 L305.48 411.21 L323.16 414.50 L340.84 417.04 L358.52 412.52 L376.20 406.97 L393.88 420.00 L411.56 419.48 L429.24 402.46 L446.92 405.00 L464.60 406.22 L482.28 404.25 L499.96 402.46" fill="none" stroke="#000" stroke-width="2.4" stroke-linejoin="round"/>
<path d="M287.80 410.13 L290.66 412.99 L287.80 415.85 L284.94 412.99Z" fill="#000"/>
<path d="M305.48 408.35 L308.34 411.21 L305.48 414.07 L302.62 411.21Z" fill="#000"/>
<path d="M323.16 411.64 L326.02 414.50 L323.16 417.36 L320.30 414.50Z" fill="#000"/>
<path d="M340.84 414.18 L343.70 417.04 L340.84 419.90 L337.98 417.04Z" fill="#000"/>
<path d="M358.52 409.66 L361.38 412.52 L358.52 415.38 L355.66 412.52Z" fill="#000"/>
<path d="M376.20 404.11 L379.06 406.97 L376.20 409.83 L373.34 406.97Z" fill="#000"/>
<path d="M393.88 417.14 L396.74 420.00 L393.88 422.86 L391.02 420.00Z" fill="#000"/>
<path d="M411.56 416.62 L414.42 419.48 L411.56 422.34 L408.70 419.48Z" fill="#000"/>
<path d="M429.24 399.60 L432.10 402.46 L429.24 405.32 L426.38 402.46Z" fill="#000"/>
<path d="M446.92 402.14 L449.78 405.00 L446.92 407.86 L444.06 405.00Z" fill="#000"/>
<path d="M464.60 403.36 L467.46 406.22 L464.60 409.08 L461.74 406.22Z" fill="#000"/>
<path d="M482.28 401.39 L485.14 404.25 L482.28 407.11 L479.42 404.25Z" fill="#000"/>
<path d="M499.96 399.60 L502.82 402.46 L499.96 405.32 L497.10 402.46Z" fill="#000"/>
<line x1="252.00" y1="509.60" x2="520.00" y2="509.60" stroke="#000" stroke-width="2" stroke-dasharray="3,1.7" />
<line x1="252.00" y1="544.40" x2="520.00" y2="544.40" stroke="#000" stroke-width="2" stroke-dasharray="3,1.7" />
<text x="253.60" y="521.80" font-family="Liberation Serif" font-size="10" fill="#000" font-weight="bold" stroke="#000" stroke-width="0.4" >TSS1</text>
<text x="287.70" y="521.80" font-family="Liberation Serif" font-size="10.6" fill="#5f5f5f" text-anchor="middle" stroke="#5f5f5f" stroke-width="0.35">347</text>
<text x="305.38" y="521.80" font-family="Liberation Serif" font-size="10.6" fill="#5f5f5f" text-anchor="middle" stroke="#5f5f5f" stroke-width="0.35">177</text>
<text x="323.06" y="521.80" font-family="Liberation Serif" font-size="10.6" fill="#5f5f5f" text-anchor="middle" stroke="#5f5f5f" stroke-width="0.35">73</text>
<text x="340.74" y="521.80" font-family="Liberation Serif" font-size="10.6" fill="#5f5f5f" text-anchor="middle" stroke="#5f5f5f" stroke-width="0.35">156</text>
<text x="358.42" y="521.80" font-family="Liberation Serif" font-size="10.6" fill="#5f5f5f" text-anchor="middle" stroke="#5f5f5f" stroke-width="0.35">42</text>
<text x="376.10" y="521.80" font-family="Liberation Serif" font-size="10.6" fill="#5f5f5f" text-anchor="middle" stroke="#5f5f5f" stroke-width="0.35">88</text>
<text x="393.78" y="521.80" font-family="Liberation Serif" font-size="10.6" fill="#5f5f5f" text-anchor="middle" stroke="#5f5f5f" stroke-width="0.35">34</text>
<text x="411.46" y="521.80" font-family="Liberation Serif" font-size="10.6" fill="#5f5f5f" text-anchor="middle" stroke="#5f5f5f" stroke-width="0.35">33</text>
<text x="429.14" y="521.80" font-family="Liberation Serif" font-size="10.6" fill="#5f5f5f" text-anchor="middle" stroke="#5f5f5f" stroke-width="0.35">106</text>
<text x="446.82" y="521.80" font-family="Liberation Serif" font-size="10.6" fill="#5f5f5f" text-anchor="middle" stroke="#5f5f5f" stroke-width="0.35">111</text>
<text x="464.50" y="521.80" font-family="Liberation Serif" font-size="10.6" fill="#5f5f5f" text-anchor="middle" stroke="#5f5f5f" stroke-width="0.35">67</text>
<text x="482.18" y="521.80" font-family="Liberation Serif" font-size="10.6" fill="#5f5f5f" text-anchor="middle" stroke="#5f5f5f" stroke-width="0.35">88</text>
<text x="499.86" y="521.80" font-family="Liberation Serif" font-size="10.6" fill="#5f5f5f" text-anchor="middle" stroke="#5f5f5f" stroke-width="0.35">88</text>
<text x="253.60" y="531.70" font-family="Liberation Serif" font-size="10" fill="#000" font-weight="bold" stroke="#000" stroke-width="0.4" >TSS2</text>
<text x="287.70" y="531.70" font-family="Liberation Serif" font-size="10.6" fill="#c2502a" font-weight="bold" text-anchor="middle" stroke="#c2502a" stroke-width="0.4" >59</text>
<text x="305.38" y="531.70" font-family="Liberation Serif" font-size="10.6" fill="#c2502a" font-weight="bold" text-anchor="middle" stroke="#c2502a" stroke-width="0.4" >22</text>
<text x="323.06" y="531.70" font-family="Liberation Serif" font-size="10.6" fill="#c2502a" font-weight="bold" text-anchor="middle" stroke="#c2502a" stroke-width="0.4" >5</text>
<text x="340.74" y="531.70" font-family="Liberation Serif" font-size="10.6" fill="#c2502a" font-weight="bold" text-anchor="middle" stroke="#c2502a" stroke-width="0.4" >16</text>
<text x="358.42" y="531.70" font-family="Liberation Serif" font-size="10.6" fill="#c2502a" font-weight="bold" text-anchor="middle" stroke="#c2502a" stroke-width="0.4" >9</text>
<text x="376.10" y="531.70" font-family="Liberation Serif" font-size="10.6" fill="#c2502a" font-weight="bold" text-anchor="middle" stroke="#c2502a" stroke-width="0.4" >22</text>
<text x="393.78" y="531.70" font-family="Liberation Serif" font-size="10.6" fill="#c2502a" font-weight="bold" text-anchor="middle" stroke="#c2502a" stroke-width="0.4" >1</text>
<text x="411.46" y="531.70" font-family="Liberation Serif" font-size="10.6" fill="#c2502a" font-weight="bold" text-anchor="middle" stroke="#c2502a" stroke-width="0.4" >1</text>
<text x="429.14" y="531.70" font-family="Liberation Serif" font-size="10.6" fill="#c2502a" font-weight="bold" text-anchor="middle" stroke="#c2502a" stroke-width="0.4" >48</text>
<text x="446.82" y="531.70" font-family="Liberation Serif" font-size="10.6" fill="#c2502a" font-weight="bold" text-anchor="middle" stroke="#c2502a" stroke-width="0.4" >54</text>
<text x="464.50" y="531.70" font-family="Liberation Serif" font-size="10.6" fill="#c2502a" font-weight="bold" text-anchor="middle" stroke="#c2502a" stroke-width="0.4" >30</text>
<text x="482.18" y="531.70" font-family="Liberation Serif" font-size="10.6" fill="#c2502a" font-weight="bold" text-anchor="middle" stroke="#c2502a" stroke-width="0.4" >51</text>
<text x="499.86" y="531.70" font-family="Liberation Serif" font-size="10.6" fill="#c2502a" font-weight="bold" text-anchor="middle" stroke="#c2502a" stroke-width="0.4" >51</text>
<text x="253.60" y="541.30" font-family="Liberation Serif" font-size="10" fill="#000" font-weight="bold" stroke="#000" stroke-width="0.4" >TSS3</text>
<text x="287.70" y="541.30" font-family="Liberation Serif" font-size="10.6" fill="#000" font-weight="bold" text-anchor="middle" stroke="#000" stroke-width="0.4" >36</text>
<text x="305.38" y="541.30" font-family="Liberation Serif" font-size="10.6" fill="#000" font-weight="bold" text-anchor="middle" stroke="#000" stroke-width="0.4" >23</text>
<text x="323.06" y="541.30" font-family="Liberation Serif" font-size="10.6" fill="#000" font-weight="bold" text-anchor="middle" stroke="#000" stroke-width="0.4" >6</text>
<text x="340.74" y="541.30" font-family="Liberation Serif" font-size="10.6" fill="#000" font-weight="bold" text-anchor="middle" stroke="#000" stroke-width="0.4" >8</text>
<text x="358.42" y="541.30" font-family="Liberation Serif" font-size="10.6" fill="#000" font-weight="bold" text-anchor="middle" stroke="#000" stroke-width="0.4" >6</text>
<text x="376.10" y="541.30" font-family="Liberation Serif" font-size="10.6" fill="#000" font-weight="bold" text-anchor="middle" stroke="#000" stroke-width="0.4" >19</text>
<text x="393.78" y="541.30" font-family="Liberation Serif" font-size="10.6" fill="#000" font-weight="bold" text-anchor="middle" stroke="#000" stroke-width="0.4" >0</text>
<text x="411.46" y="541.30" font-family="Liberation Serif" font-size="10.6" fill="#000" font-weight="bold" text-anchor="middle" stroke="#000" stroke-width="0.4" >0</text>
<text x="429.14" y="541.30" font-family="Liberation Serif" font-size="10.6" fill="#000" font-weight="bold" text-anchor="middle" stroke="#000" stroke-width="0.4" >35</text>
<text x="446.82" y="541.30" font-family="Liberation Serif" font-size="10.6" fill="#000" font-weight="bold" text-anchor="middle" stroke="#000" stroke-width="0.4" >34</text>
<text x="464.50" y="541.30" font-family="Liberation Serif" font-size="10.6" fill="#000" font-weight="bold" text-anchor="middle" stroke="#000" stroke-width="0.4" >18</text>
<text x="482.18" y="541.30" font-family="Liberation Serif" font-size="10.6" fill="#000" font-weight="bold" text-anchor="middle" stroke="#000" stroke-width="0.4" >30</text>
<text x="499.86" y="541.30" font-family="Liberation Serif" font-size="10.6" fill="#000" font-weight="bold" text-anchor="middle" stroke="#000" stroke-width="0.4" >34</text>
<text x="510.40" y="515.00" font-family="Liberation Serif" font-size="10" fill="#000" font-weight="bold" textLength="25.00" lengthAdjust="spacingAndGlyphs" transform="rotate(90 510.40 515.00)" stroke="#000" stroke-width="0.4" >TPM</text>
<rect x="328.00" y="275.90" width="181.00" height="8.30" fill="#cacaca" stroke="#666" stroke-width="0.9"/>
<rect x="330.00" y="276.30" width="1.80" height="7.50" fill="#999"/>
<rect x="336.20" y="276.30" width="2.30" height="7.50" fill="#e8a540"/>
<rect x="338.80" y="276.30" width="2.20" height="7.50" fill="#111"/>
<text x="351.30" y="283.00" font-family="Liberation Serif" font-size="9.4" fill="#000" font-weight="bold" textLength="155.50" lengthAdjust="spacingAndGlyphs" stroke="#000" stroke-width="0.4" >hg19::chrVII: 104,629,662-104,779,505</text>
<rect x="331.30" y="286.60" width="57.70" height="8.20" fill="#a2a2a2"/>
<path d="M399.80 290.70 L395.50 286.60 L389.00 286.60 L389.00 294.80 L395.50 294.80Z" fill="#000"/>
<path d="M389.60 288.20 L392.00 290.70 L389.60 293.20" fill="none" stroke="#ddd" stroke-width="0.9"/>
<text x="331.80" y="293.40" font-family="Liberation Serif" font-size="9.6" fill="#fff" font-weight="bold" textLength="56.90" lengthAdjust="spacingAndGlyphs" stroke="none">104654623-669</text>
<rect x="337.00" y="298.00" width="57.00" height="8.10" fill="#e8a540"/>
<path d="M406.50 302.05 L401.90 298.00 L394.00 298.00 L394.00 306.10 L401.90 306.10Z" fill="#000"/>
<path d="M394.60 299.60 L397.00 302.05 L394.60 304.50" fill="none" stroke="#ddd" stroke-width="0.9"/>
<text x="337.50" y="304.70" font-family="Liberation Serif" font-size="9.6" fill="#000" font-weight="bold" textLength="56.20" lengthAdjust="spacingAndGlyphs" stroke="none">104654690-704</text>
<rect x="338.80" y="307.00" width="60.70" height="8.70" fill="#000"/>
<path d="M412.80 311.35 L408.20 307.00 L399.50 307.00 L399.50 315.70 L408.20 315.70Z" fill="#000"/>
<path d="M400.10 308.60 L402.50 311.35 L400.10 314.10" fill="none" stroke="#ddd" stroke-width="0.9"/>
<text x="339.30" y="314.30" font-family="Liberation Serif" font-size="9.6" fill="#fff" font-weight="bold" textLength="59.90" lengthAdjust="spacingAndGlyphs" stroke="none">104654718-741</text>
<text x="307.00" y="294.00" font-family="Liberation Serif" font-size="9.3" fill="#000" font-weight="bold" textLength="19.50" lengthAdjust="spacingAndGlyphs" stroke="#000" stroke-width="0.4" >TSS1</text>
<text x="311.20" y="305.00" font-family="Liberation Serif" font-size="9.3" fill="#000" font-weight="bold" textLength="20.00" lengthAdjust="spacingAndGlyphs" stroke="#000" stroke-width="0.4" >TSS2</text>
<text x="316.20" y="314.20" font-family="Liberation Serif" font-size="9.3" fill="#000" font-weight="bold" textLength="19.00" lengthAdjust="spacingAndGlyphs" stroke="#000" stroke-width="0.4" >TSS3</text>
<line x1="289.50" y1="290.80" x2="306.20" y2="290.80" stroke="#9c9c9c" stroke-width="1.8" />
<circle cx="297.50" cy="290.80" r="2.8" fill="#9c9c9c"/>
<line x1="289.50" y1="302.50" x2="306.20" y2="302.50" stroke="#d8843a" stroke-width="1.4" />
<path d="M297.50 299.76 L299.73 303.83 L295.27 303.83Z" fill="#e58f4c" stroke="#d8843a" stroke-width="1.3" stroke-linejoin="round"/>
<line x1="289.50" y1="311.50" x2="306.20" y2="311.50" stroke="#000" stroke-width="1.6" />
<path d="M297.50 308.64 L300.36 311.50 L297.50 314.36 L294.64 311.50Z" fill="#000"/>
<line x1="96.30" y1="576.40" x2="141.20" y2="576.40" stroke="#78a340" stroke-width="2" />
<path d="M135.6 572.6 L141.6 576.4 L135.6 580.2" fill="none" stroke="#78a340" stroke-width="2"/>
<text x="145.20" y="579.60" font-family="Liberation Serif" font-size="12.6" fill="#000" font-weight="bold" textLength="47.40" lengthAdjust="spacingAndGlyphs" stroke="#000" stroke-width="0.4" >CXorf15</text>
<text x="121.60" y="592.70" font-family="Liberation Serif" font-size="12.6" fill="#000" font-weight="bold" textLength="39.30" lengthAdjust="spacingAndGlyphs" stroke="#000" stroke-width="0.4" >RBBP7</text>
<line x1="163.50" y1="589.20" x2="373.80" y2="589.20" stroke="#6b2c80" stroke-width="2.4" />
<path d="M170.6 585.0 L163.6 589.2 L170.6 593.4" fill="none" stroke="#6b2c80" stroke-width="2.4"/>
<rect x="97.70" y="608.40" width="4.00" height="4.50" fill="#7c7c7c"/>
<rect x="101.70" y="608.40" width="7.00" height="4.50" fill="#858585"/>
<rect x="108.70" y="608.40" width="5.00" height="4.50" fill="#7c7c7c"/>
<rect x="113.70" y="608.40" width="6.00" height="4.50" fill="#7c7c7c"/>
<rect x="119.70" y="608.40" width="3.00" height="4.50" fill="#7c7c7c"/>
<rect x="122.70" y="608.40" width="3.00" height="4.50" fill="#a0a0a0"/>
<rect x="125.70" y="608.40" width="5.00" height="4.50" fill="#7c7c7c"/>
<rect x="130.70" y="608.40" width="4.00" height="4.50" fill="#858585"/>
<rect x="134.70" y="608.40" width="6.00" height="4.50" fill="#7c7c7c"/>
<rect x="140.70" y="608.40" width="7.00" height="4.50" fill="#a0a0a0"/>
<rect x="147.70" y="608.40" width="6.00" height="4.50" fill="#858585"/>
<rect x="153.70" y="608.40" width="4.00" height="4.50" fill="#858585"/>
<rect x="157.70" y="608.40" width="7.00" height="4.50" fill="#a0a0a0"/>
<rect x="164.70" y="608.40" width="3.00" height="4.50" fill="#707070"/>
<rect x="167.70" y="608.40" width="4.00" height="4.50" fill="#7c7c7c"/>
<rect x="171.70" y="608.40" width="3.00" height="4.50" fill="#636363"/>
<rect x="174.70" y="608.40" width="3.00" height="4.50" fill="#636363"/>
<rect x="177.70" y="608.40" width="6.00" height="4.50" fill="#7c7c7c"/>
<rect x="183.70" y="608.40" width="6.00" height="4.50" fill="#a0a0a0"/>
<rect x="189.70" y="608.40" width="6.00" height="4.50" fill="#7c7c7c"/>
<rect x="195.70" y="608.40" width="6.00" height="4.50" fill="#858585"/>
<rect x="201.70" y="608.40" width="5.00" height="4.50" fill="#707070"/>
<rect x="206.70" y="608.40" width="3.00" height="4.50" fill="#858585"/>
<rect x="209.70" y="608.40" width="6.00" height="4.50" fill="#858585"/>
<rect x="215.70" y="608.40" width="5.00" height="4.50" fill="#a0a0a0"/>
<rect x="220.70" y="608.40" width="5.00" height="4.50" fill="#a0a0a0"/>
<rect x="225.70" y="608.40" width="7.00" height="4.50" fill="#a0a0a0"/>
<rect x="232.70" y="608.40" width="7.00" height="4.50" fill="#636363"/>
<rect x="239.70" y="608.40" width="7.00" height="4.50" fill="#7c7c7c"/>
<rect x="246.70" y="608.40" width="6.00" height="4.50" fill="#7c7c7c"/>
<rect x="252.70" y="608.40" width="4.00" height="4.50" fill="#636363"/>
<rect x="256.70" y="608.40" width="3.00" height="4.50" fill="#636363"/>
<rect x="259.70" y="608.40" width="7.00" height="4.50" fill="#858585"/>
<rect x="266.70" y="608.40" width="5.00" height="4.50" fill="#7c7c7c"/>
<rect x="271.70" y="608.40" width="7.00" height="4.50" fill="#7c7c7c"/>
<rect x="278.70" y="608.40" width="3.00" height="4.50" fill="#858585"/>
<rect x="281.70" y="608.40" width="7.00" height="4.50" fill="#636363"/>
<rect x="288.70" y="608.40" width="5.00" height="4.50" fill="#707070"/>
<rect x="293.70" y="608.40" width="3.00" height="4.50" fill="#a0a0a0"/>
<rect x="296.70" y="608.40" width="6.00" height="4.50" fill="#707070"/>
<rect x="302.70" y="608.40" width="5.00" height="4.50" fill="#707070"/>
<rect x="307.70" y="608.40" width="6.00" height="4.50" fill="#858585"/>
<rect x="313.70" y="608.40" width="3.00" height="4.50" fill="#636363"/>
<rect x="316.70" y="608.40" width="6.00" height="4.50" fill="#a0a0a0"/>
<rect x="322.70" y="608.40" width="3.00" height="4.50" fill="#707070"/>
<rect x="325.70" y="608.40" width="7.00" height="4.50" fill="#7c7c7c"/>
<rect x="332.70" y="608.40" width="3.00" height="4.50" fill="#a0a0a0"/>
<rect x="335.70" y="608.40" width="7.00" height="4.50" fill="#636363"/>
<rect x="342.70" y="608.40" width="7.00" height="4.50" fill="#636363"/>
<rect x="349.70" y="608.40" width="7.00" height="4.50" fill="#858585"/>
<rect x="356.70" y="608.40" width="3.00" height="4.50" fill="#636363"/>
<rect x="359.70" y="608.40" width="3.00" height="4.50" fill="#707070"/>
<rect x="362.70" y="608.40" width="3.00" height="4.50" fill="#7c7c7c"/>
<rect x="365.70" y="608.40" width="7.00" height="4.50" fill="#707070"/>
<rect x="372.70" y="608.40" width="4.00" height="4.50" fill="#a0a0a0"/>
<rect x="376.70" y="608.40" width="5.00" height="4.50" fill="#7c7c7c"/>
<rect x="381.70" y="608.40" width="5.00" height="4.50" fill="#858585"/>
<rect x="386.70" y="608.40" width="3.00" height="4.50" fill="#636363"/>
<rect x="389.70" y="608.40" width="5.00" height="4.50" fill="#636363"/>
<rect x="394.70" y="608.40" width="2.00" height="4.50" fill="#a0a0a0"/>
<line x1="97.70" y1="607.90" x2="396.70" y2="607.90" stroke="#000" stroke-width="1" />
<line x1="98.50" y1="606.30" x2="98.50" y2="610.20" stroke="#000" stroke-width="0.9" />
<line x1="106.70" y1="606.30" x2="106.70" y2="610.20" stroke="#000" stroke-width="0.9" />
<line x1="114.90" y1="606.30" x2="114.90" y2="610.20" stroke="#000" stroke-width="0.9" />
<line x1="123.10" y1="606.30" x2="123.10" y2="610.20" stroke="#000" stroke-width="0.9" />
<line x1="131.30" y1="606.30" x2="131.30" y2="610.20" stroke="#000" stroke-width="0.9" />
<line x1="139.50" y1="606.30" x2="139.50" y2="610.20" stroke="#000" stroke-width="0.9" />
<line x1="147.70" y1="606.30" x2="147.70" y2="610.20" stroke="#000" stroke-width="0.9" />
<line x1="155.90" y1="606.30" x2="155.90" y2="610.20" stroke="#000" stroke-width="0.9" />
<line x1="164.10" y1="606.30" x2="164.10" y2="610.20" stroke="#000" stroke-width="0.9" />
<line x1="172.30" y1="606.30" x2="172.30" y2="610.20" stroke="#000" stroke-width="0.9" />
<line x1="180.50" y1="606.30" x2="180.50" y2="610.20" stroke="#000" stroke-width="0.9" />
<line x1="188.70" y1="606.30" x2="188.70" y2="610.20" stroke="#000" stroke-width="0.9" />
<line x1="196.90" y1="606.30" x2="196.90" y2="610.20" stroke="#000" stroke-width="0.9" />
<line x1="205.10" y1="606.30" x2="205.10" y2="610.20" stroke="#000" stroke-width="0.9" />
<line x1="213.30" y1="606.30" x2="213.30" y2="610.20" stroke="#000" stroke-width="0.9" />
<line x1="221.50" y1="606.30" x2="221.50" y2="610.20" stroke="#000" stroke-width="0.9" />
<line x1="229.70" y1="606.30" x2="229.70" y2="610.20" stroke="#000" stroke-width="0.9" />
<line x1="237.90" y1="606.30" x2="237.90" y2="610.20" stroke="#000" stroke-width="0.9" />
<line x1="246.10" y1="606.30" x2="246.10" y2="610.20" stroke="#000" stroke-width="0.9" />
<line x1="254.30" y1="606.30" x2="254.30" y2="610.20" stroke="#000" stroke-width="0.9" />
<line x1="262.50" y1="606.30" x2="262.50" y2="610.20" stroke="#000" stroke-width="0.9" />
<line x1="270.70" y1="606.30" x2="270.70" y2="610.20" stroke="#000" stroke-width="0.9" />
<line x1="278.90" y1="606.30" x2="278.90" y2="610.20" stroke="#000" stroke-width="0.9" />
<line x1="287.10" y1="606.30" x2="287.10" y2="610.20" stroke="#000" stroke-width="0.9" />
<line x1="295.30" y1="606.30" x2="295.30" y2="610.20" stroke="#000" stroke-width="0.9" />
<line x1="303.50" y1="606.30" x2="303.50" y2="610.20" stroke="#000" stroke-width="0.9" />
<line x1="311.70" y1="606.30" x2="311.70" y2="610.20" stroke="#000" stroke-width="0.9" />
<line x1="319.90" y1="606.30" x2="319.90" y2="610.20" stroke="#000" stroke-width="0.9" />
<line x1="328.10" y1="606.30" x2="328.10" y2="610.20" stroke="#000" stroke-width="0.9" />
<line x1="336.30" y1="606.30" x2="336.30" y2="610.20" stroke="#000" stroke-width="0.9" />
<line x1="344.50" y1="606.30" x2="344.50" y2="610.20" stroke="#000" stroke-width="0.9" />
<line x1="352.70" y1="606.30" x2="352.70" y2="610.20" stroke="#000" stroke-width="0.9" />
<line x1="360.90" y1="606.30" x2="360.90" y2="610.20" stroke="#000" stroke-width="0.9" />
<line x1="369.10" y1="606.30" x2="369.10" y2="610.20" stroke="#000" stroke-width="0.9" />
<line x1="377.30" y1="606.30" x2="377.30" y2="610.20" stroke="#000" stroke-width="0.9" />
<line x1="385.50" y1="606.30" x2="385.50" y2="610.20" stroke="#000" stroke-width="0.9" />
<line x1="393.70" y1="606.30" x2="393.70" y2="610.20" stroke="#000" stroke-width="0.9" />
<line x1="139.50" y1="603.40" x2="139.50" y2="612.80" stroke="#000" stroke-width="2" />
<text x="136.90" y="602.40" font-family="Liberation Serif" font-size="11.4" fill="#000" textLength="44.60" lengthAdjust="spacingAndGlyphs" >16860000</text>
<line x1="221.25" y1="603.40" x2="221.25" y2="612.80" stroke="#000" stroke-width="2" />
<text x="218.65" y="602.40" font-family="Liberation Serif" font-size="11.4" fill="#000" textLength="44.60" lengthAdjust="spacingAndGlyphs" >16870000</text>
<line x1="303.75" y1="603.40" x2="303.75" y2="612.80" stroke="#000" stroke-width="2" />
<text x="301.15" y="602.40" font-family="Liberation Serif" font-size="11.4" fill="#000" textLength="44.60" lengthAdjust="spacingAndGlyphs" >16880000</text>
<line x1="385.75" y1="603.40" x2="385.75" y2="612.80" stroke="#000" stroke-width="2" />
<text x="383.15" y="602.40" font-family="Liberation Serif" font-size="11.4" fill="#000" textLength="44.60" lengthAdjust="spacingAndGlyphs" >16890000</text>
<rect x="371.4" y="600.3" width="4.8" height="15.2" fill="#fff" fill-opacity="0.5" stroke="#c8202a" stroke-width="1.2"/>
<text x="97.70" y="623.50" font-family="Liberation Serif" font-size="12.8" fill="#000" textLength="175.00" lengthAdjust="spacingAndGlyphs" >hg19::ChrX: 16854821-16893244</text>
<line x1="371.40" y1="615.60" x2="96.30" y2="644.80" stroke="#000" stroke-width="1" stroke-dasharray="1.6,1.4" />
<line x1="376.20" y1="615.60" x2="364.20" y2="645.50" stroke="#000" stroke-width="1" stroke-dasharray="1.6,1.4" />
<rect x="96.30" y="645.30" width="8.00" height="6.00" fill="#9e9e9e"/>
<rect x="104.30" y="645.30" width="10.00" height="6.00" fill="#8f8f8f"/>
<rect x="114.30" y="645.30" width="4.00" height="6.00" fill="#8a8a8a"/>
<rect x="118.30" y="645.30" width="12.00" height="6.00" fill="#8a8a8a"/>
<rect x="130.30" y="645.30" width="8.00" height="6.00" fill="#d0d0d0"/>
<rect x="138.30" y="645.30" width="4.00" height="6.00" fill="#d0d0d0"/>
<rect x="142.30" y="645.30" width="6.00" height="6.00" fill="#8a8a8a"/>
<rect x="148.30" y="645.30" width="4.00" height="6.00" fill="#949494"/>
<rect x="152.30" y="645.30" width="10.00" height="6.00" fill="#8a8a8a"/>
<rect x="162.30" y="645.30" width="6.00" height="6.00" fill="#8a8a8a"/>
<rect x="168.30" y="645.30" width="12.00" height="6.00" fill="#949494"/>
<rect x="180.30" y="645.30" width="4.00" height="6.00" fill="#d0d0d0"/>
<rect x="184.30" y="645.30" width="4.00" height="6.00" fill="#9e9e9e"/>
<rect x="188.30" y="645.30" width="12.00" height="6.00" fill="#8a8a8a"/>
<rect x="200.30" y="645.30" width="12.00" height="6.00" fill="#d0d0d0"/>
<rect x="212.30" y="645.30" width="10.00" height="6.00" fill="#8a8a8a"/>
<rect x="222.30" y="645.30" width="6.00" height="6.00" fill="#8a8a8a"/>
<rect x="228.30" y="645.30" width="12.00" height="6.00" fill="#9e9e9e"/>
<rect x="240.30" y="645.30" width="8.00" height="6.00" fill="#949494"/>
<rect x="248.30" y="645.30" width="6.00" height="6.00" fill="#d0d0d0"/>
<rect x="254.30" y="645.30" width="4.00" height="6.00" fill="#d0d0d0"/>
<rect x="258.30" y="645.30" width="8.00" height="6.00" fill="#d0d0d0"/>
<rect x="266.30" y="645.30" width="6.00" height="6.00" fill="#8a8a8a"/>
<rect x="272.30" y="645.30" width="12.00" height="6.00" fill="#d0d0d0"/>
<rect x="284.30" y="645.30" width="6.00" height="6.00" fill="#c4c4c4"/>
<rect x="290.30" y="645.30" width="4.00" height="6.00" fill="#d0d0d0"/>
<rect x="294.30" y="645.30" width="4.00" height="6.00" fill="#d0d0d0"/>
<rect x="298.30" y="645.30" width="4.00" height="6.00" fill="#d0d0d0"/>
<rect x="302.30" y="645.30" width="6.00" height="6.00" fill="#949494"/>
<rect x="308.30" y="645.30" width="12.00" height="6.00" fill="#949494"/>
<rect x="320.30" y="645.30" width="8.00" height="6.00" fill="#949494"/>
<rect x="328.30" y="645.30" width="12.00" height="6.00" fill="#949494"/>
<rect x="340.30" y="645.30" width="8.00" height="6.00" fill="#c4c4c4"/>
<rect x="348.30" y="645.30" width="6.00" height="6.00" fill="#9e9e9e"/>
<rect x="354.30" y="645.30" width="6.00" height="6.00" fill="#8a8a8a"/>
<rect x="360.30" y="645.30" width="3.50" height="6.00" fill="#c4c4c4"/>
<line x1="99.36" y1="648.40" x2="99.36" y2="652.40" stroke="#000" stroke-width="1.1" />
<line x1="105.28" y1="648.40" x2="105.28" y2="652.40" stroke="#000" stroke-width="1.1" />
<line x1="111.20" y1="648.40" x2="111.20" y2="652.40" stroke="#000" stroke-width="1.1" />
<line x1="117.12" y1="648.40" x2="117.12" y2="652.40" stroke="#000" stroke-width="1.1" />
<line x1="123.04" y1="648.40" x2="123.04" y2="652.40" stroke="#000" stroke-width="1.1" />
<line x1="128.96" y1="648.40" x2="128.96" y2="652.40" stroke="#000" stroke-width="1.1" />
<line x1="134.88" y1="648.40" x2="134.88" y2="652.40" stroke="#000" stroke-width="1.1" />
<line x1="140.80" y1="648.40" x2="140.80" y2="652.40" stroke="#000" stroke-width="1.1" />
<line x1="146.72" y1="648.40" x2="146.72" y2="652.40" stroke="#000" stroke-width="1.1" />
<line x1="152.64" y1="648.40" x2="152.64" y2="652.40" stroke="#000" stroke-width="1.1" />
<line x1="158.56" y1="648.40" x2="158.56" y2="652.40" stroke="#000" stroke-width="1.1" />
<line x1="164.48" y1="648.40" x2="164.48" y2="652.40" stroke="#000" stroke-width="1.1" />
<line x1="170.40" y1="648.40" x2="170.40" y2="652.40" stroke="#000" stroke-width="1.1" />
<line x1="176.32" y1="648.40" x2="176.32" y2="652.40" stroke="#000" stroke-width="1.1" />
<line x1="182.24" y1="648.40" x2="182.24" y2="652.40" stroke="#000" stroke-width="1.1" />
<line x1="188.16" y1="648.40" x2="188.16" y2="652.40" stroke="#000" stroke-width="1.1" />
<line x1="194.08" y1="648.40" x2="194.08" y2="652.40" stroke="#000" stroke-width="1.1" />
<line x1="200.00" y1="648.40" x2="200.00" y2="652.40" stroke="#000" stroke-width="1.1" />
<line x1="205.92" y1="648.40" x2="205.92" y2="652.40" stroke="#000" stroke-width="1.1" />
<line x1="211.84" y1="648.40" x2="211.84" y2="652.40" stroke="#000" stroke-width="1.1" />
<line x1="217.76" y1="648.40" x2="217.76" y2="652.40" stroke="#000" stroke-width="1.1" />
<line x1="223.68" y1="648.40" x2="223.68" y2="652.40" stroke="#000" stroke-width="1.1" />
<line x1="229.60" y1="648.40" x2="229.60" y2="652.40" stroke="#000" stroke-width="1.1" />
<line x1="235.52" y1="648.40" x2="235.52" y2="652.40" stroke="#000" stroke-width="1.1" />
<line x1="241.44" y1="648.40" x2="241.44" y2="652.40" stroke="#000" stroke-width="1.1" />
<line x1="247.36" y1="648.40" x2="247.36" y2="652.40" stroke="#000" stroke-width="1.1" />
<line x1="253.28" y1="648.40" x2="253.28" y2="652.40" stroke="#000" stroke-width="1.1" />
<line x1="259.20" y1="648.40" x2="259.20" y2="652.40" stroke="#000" stroke-width="1.1" />
<line x1="265.12" y1="648.40" x2="265.12" y2="652.40" stroke="#000" stroke-width="1.1" />
<line x1="271.04" y1="648.40" x2="271.04" y2="652.40" stroke="#000" stroke-width="1.1" />
<line x1="276.96" y1="648.40" x2="276.96" y2="652.40" stroke="#000" stroke-width="1.1" />
<line x1="282.88" y1="648.40" x2="282.88" y2="652.40" stroke="#000" stroke-width="1.1" />
<line x1="288.80" y1="648.40" x2="288.80" y2="652.40" stroke="#000" stroke-width="1.1" />
<line x1="294.72" y1="648.40" x2="294.72" y2="652.40" stroke="#000" stroke-width="1.1" />
<line x1="300.64" y1="648.40" x2="300.64" y2="652.40" stroke="#000" stroke-width="1.1" />
<line x1="306.56" y1="648.40" x2="306.56" y2="652.40" stroke="#000" stroke-width="1.1" />
<line x1="312.48" y1="648.40" x2="312.48" y2="652.40" stroke="#000" stroke-width="1.1" />
<line x1="318.40" y1="648.40" x2="318.40" y2="652.40" stroke="#000" stroke-width="1.1" />
<line x1="324.32" y1="648.40" x2="324.32" y2="652.40" stroke="#000" stroke-width="1.1" />
<line x1="330.24" y1="648.40" x2="330.24" y2="652.40" stroke="#000" stroke-width="1.1" />
<line x1="336.16" y1="648.40" x2="336.16" y2="652.40" stroke="#000" stroke-width="1.1" />
<line x1="342.08" y1="648.40" x2="342.08" y2="652.40" stroke="#000" stroke-width="1.1" />
<line x1="348.00" y1="648.40" x2="348.00" y2="652.40" stroke="#000" stroke-width="1.1" />
<line x1="353.92" y1="648.40" x2="353.92" y2="652.40" stroke="#000" stroke-width="1.1" />
<line x1="359.84" y1="648.40" x2="359.84" y2="652.40" stroke="#000" stroke-width="1.1" />
<line x1="111.20" y1="645.30" x2="111.20" y2="663.20" stroke="#000" stroke-width="2" />
<text x="108.80" y="664.00" font-family="Liberation Serif" font-size="12" fill="#000" textLength="45.00" lengthAdjust="spacingAndGlyphs" >16888200</text>
<line x1="170.40" y1="645.30" x2="170.40" y2="663.20" stroke="#000" stroke-width="2" />
<text x="168.00" y="664.00" font-family="Liberation Serif" font-size="12" fill="#000" textLength="45.00" lengthAdjust="spacingAndGlyphs" >16888300</text>
<line x1="229.20" y1="645.30" x2="229.20" y2="663.20" stroke="#000" stroke-width="2" />
<text x="226.80" y="664.00" font-family="Liberation Serif" font-size="12" fill="#000" textLength="45.00" lengthAdjust="spacingAndGlyphs" >16888400</text>
<line x1="288.60" y1="645.30" x2="288.60" y2="663.20" stroke="#000" stroke-width="2" />
<text x="286.20" y="664.00" font-family="Liberation Serif" font-size="12" fill="#000" textLength="45.00" lengthAdjust="spacingAndGlyphs" >16888500</text>
<line x1="348.10" y1="645.30" x2="348.10" y2="663.20" stroke="#000" stroke-width="2" />
<text x="345.70" y="664.00" font-family="Liberation Serif" font-size="12" fill="#000" textLength="45.00" lengthAdjust="spacingAndGlyphs" >16888600</text>
<line x1="97.00" y1="672.50" x2="307.00" y2="672.50" stroke="#6b2c80" stroke-width="2.4" />
<text x="310.50" y="676.60" font-family="Liberation Serif" font-size="12.6" fill="#000" font-weight="bold" textLength="40.20" lengthAdjust="spacingAndGlyphs" stroke="#000" stroke-width="0.4" >RBBP7</text>
<rect x="211.80" y="682.50" width="38.40" height="110.00" fill="#dcdcdc"/>
<rect x="252.40" y="682.50" width="43.80" height="110.00" fill="#fbefb8"/>
<path d="M214.25 687.50H217.25V690.00H214.25ZM216.85 687.50H219.35V692.80H216.85ZM219.25 687.50H221.75V690.00H219.25ZM221.25 687.50H223.75V691.00H221.25ZM223.25 687.50H225.95V690.50H223.25ZM225.65 687.50H228.15V695.50H225.65ZM227.75 687.50H230.55V690.50H227.75ZM230.25 687.50H233.25V690.00H230.25ZM233.25 687.50H236.25V691.00H233.25ZM236.25 687.50H239.25V690.00H236.25ZM239.25 687.50H241.45V690.50H239.25ZM241.05 687.50H244.25V692.00H241.05ZM244.05 687.50H247.75V690.00H244.05ZM253.25 687.50H255.75V691.00H253.25ZM255.25 687.50H257.85V696.00H255.25ZM257.35 687.50H260.85V693.00H257.35ZM260.45 687.50H263.85V712.30H260.45ZM263.35 687.50H265.15V698.00H263.35ZM264.65 687.50H267.85V709.00H264.65ZM267.35 687.50H268.85V693.50H267.35ZM268.35 687.50H270.45V692.00H268.35ZM269.95 687.50H273.65V693.00H269.95ZM273.25 687.50H275.75V704.20H273.25ZM275.25 687.50H278.95V693.00H275.25ZM278.55 687.50H281.15V719.70H278.55ZM280.75 687.50H285.05V693.00H280.75ZM284.65 687.50H288.55V697.50H284.65ZM288.15 687.50H292.65V692.00H288.15ZM292.15 687.50H295.65V697.00H292.15ZM295.15 687.50H299.25V690.50H295.15ZM298.75 687.50H305.45V690.00H298.75ZM305.15 687.50H307.25V692.30H305.15ZM306.75 687.50H308.75V690.00H306.75ZM308.25 687.50H311.05V701.50H308.25ZM310.55 687.50H313.25V690.50H310.55ZM312.75 687.50H315.65V692.30H312.75ZM315.15 687.50H322.25V689.80H315.15ZM321.75 687.50H330.25V689.40H321.75ZM329.75 687.50H332.25V691.50H329.75ZM331.75 687.50H338.25V689.20H331.75ZM338.25 687.50H340.25V690.50H338.25Z" fill="#5a1f6c"/>
<line x1="95.50" y1="687.50" x2="365.20" y2="687.50" stroke="#000" stroke-width="1.1" />
<text x="92.00" y="698.80" font-family="Liberation Serif" font-size="12.6" fill="#000" font-weight="bold" textLength="78.50" lengthAdjust="spacingAndGlyphs" stroke="#000" stroke-width="0.4" >B cells Donor1</text>
<path d="M213.25 723.80H215.25V727.00H213.25ZM214.75 723.80H216.85V729.00H214.75ZM216.55 723.80H219.55V755.50H216.55ZM219.25 723.80H223.55V729.00H219.25ZM223.15 723.80H224.65V727.50H223.15ZM224.15 723.80H226.25V733.50H224.15ZM225.75 723.80H228.75V738.00H225.75ZM228.35 723.80H230.95V734.40H228.35ZM230.55 723.80H235.25V727.00H230.55ZM234.75 723.80H238.25V728.00H234.75ZM237.75 723.80H242.25V727.00H237.75ZM241.75 723.80H245.25V728.50H241.75ZM244.75 723.80H248.25V726.50H244.75ZM254.75 723.80H260.75V726.80H254.75ZM260.35 723.80H263.35V742.70H260.35ZM263.05 723.80H265.45V732.60H263.05ZM265.05 723.80H267.45V742.70H265.05ZM267.15 723.80H271.05V729.00H267.15ZM270.75 723.80H278.05V726.50H270.75ZM277.65 723.80H280.65V743.60H277.65ZM280.25 723.80H285.25V727.00H280.25ZM284.75 723.80H296.25V726.20H284.75ZM295.75 723.80H310.25V725.30H295.75ZM309.75 723.80H325.25V725.60H309.75ZM324.75 723.80H335.25V725.20H324.75Z" fill="#5a1f6c"/>
<line x1="95.50" y1="723.80" x2="365.20" y2="723.80" stroke="#000" stroke-width="1.1" />
<text x="92.00" y="735.00" font-family="Liberation Serif" font-size="12.6" fill="#000" font-weight="bold" textLength="114.20" lengthAdjust="spacingAndGlyphs" stroke="#000" stroke-width="0.4" >CD8+ T cells Donor1</text>
<path d="M213.25 760.00H215.25V763.00H213.25ZM214.75 760.00H216.85V768.00H214.75ZM216.45 760.00H219.75V782.90H216.45ZM219.25 760.00H221.75V767.00H219.25ZM221.25 760.00H224.15V766.00H221.25ZM225.05 760.00H228.95V792.00H225.05ZM228.45 760.00H231.25V767.50H228.45ZM230.75 760.00H233.25V764.00H230.75ZM232.75 760.00H235.65V770.40H232.75ZM235.15 760.00H240.25V763.00H235.15ZM239.75 760.00H246.25V762.30H239.75ZM254.75 760.00H260.75V762.00H254.75ZM260.35 760.00H264.65V767.30H260.35ZM264.15 760.00H267.35V769.00H264.15ZM266.85 760.00H278.25V762.30H266.85ZM277.75 760.00H281.05V765.00H277.75ZM280.75 760.00H292.25V762.00H280.75ZM312.75 760.00H317.25V761.60H312.75Z" fill="#5a1f6c"/>
<line x1="95.50" y1="760.00" x2="365.20" y2="760.00" stroke="#000" stroke-width="1.1" />
<text x="92.00" y="770.50" font-family="Liberation Serif" font-size="12.6" fill="#000" font-weight="bold" textLength="123.50" lengthAdjust="spacingAndGlyphs" stroke="#000" stroke-width="0.4" >DC monocytes Donor1</text>
<line x1="213.50" y1="797.60" x2="249.60" y2="797.60" stroke="#000" stroke-width="2.2" />
<path d="M217.4 794.4 L212.0 797.6 L217.4 800.8" fill="none" stroke="#000" stroke-width="2"/>
<line x1="254.50" y1="797.60" x2="297.60" y2="797.60" stroke="#000" stroke-width="2.2" />
<path d="M258.4 794.4 L253.0 797.6 L258.4 800.8" fill="none" stroke="#000" stroke-width="2"/>
<text x="193.80" y="807.60" font-family="Liberation Serif" font-size="9.8" fill="#000" textLength="56.20" lengthAdjust="spacingAndGlyphs" >16888373-429</text>
<text x="253.80" y="807.60" font-family="Liberation Serif" font-size="9.8" fill="#000" textLength="55.00" lengthAdjust="spacingAndGlyphs" >16888448-500</text>
<text x="227.60" y="818.40" font-family="Liberation Serif" font-size="13" fill="#000" font-weight="bold" textLength="23.70" lengthAdjust="spacingAndGlyphs" stroke="#000" stroke-width="0.4" >TSS2</text>
<text x="276.30" y="818.40" font-family="Liberation Serif" font-size="13" fill="#000" font-weight="bold" textLength="23.70" lengthAdjust="spacingAndGlyphs" stroke="#000" stroke-width="0.4" >TSS1</text>
</svg>
</body></html>
